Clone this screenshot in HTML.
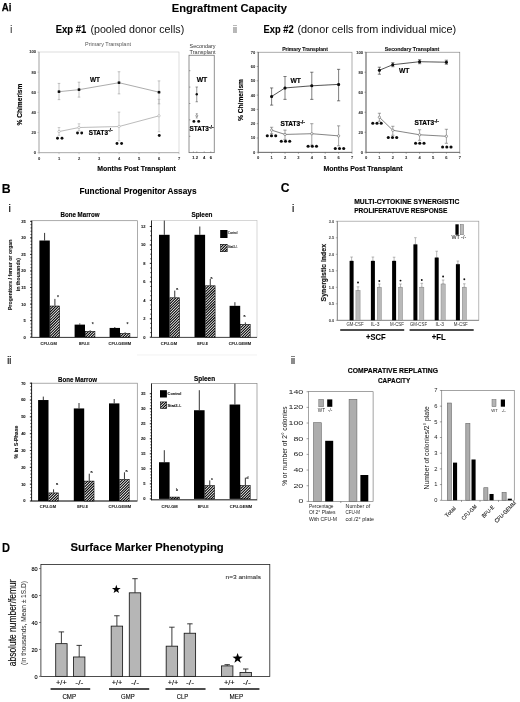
<!DOCTYPE html>
<html lang="en"><head><meta charset="utf-8"><title>Figure</title>
<style>html,body{margin:0;padding:0;background:#fff}svg{display:block}</style></head>
<body>
<svg width="520" height="702" viewBox="0 0 520 702" font-family='"Liberation Sans", sans-serif'>
<defs><filter id="bl" x="0" y="0" width="100%" height="100%" filterUnits="userSpaceOnUse"><feGaussianBlur stdDeviation="0.35"/></filter></defs>
<rect width="520" height="702" fill="#fff"/>
<g filter="url(#bl)">
<text x="1.80" y="10.50" font-size="10.7" font-weight="bold" textLength="9.70" lengthAdjust="spacingAndGlyphs" stroke="#000" stroke-width="0.25">Ai</text>
<text x="171.70" y="11.60" font-size="11.0" font-weight="bold" textLength="115.30" lengthAdjust="spacingAndGlyphs" stroke="#000" stroke-width="0.12">Engraftment Capacity</text>
<text x="9.90" y="32.70" font-size="11" fill="#333">i</text>
<text x="55.80" y="33.10" font-size="10.1" font-weight="bold" textLength="30.50" lengthAdjust="spacingAndGlyphs" stroke="#000" stroke-width="0.12">Exp #1</text>
<text x="90.40" y="33.10" font-size="10.1" fill="#111" textLength="93.80" lengthAdjust="spacingAndGlyphs">(pooled donor cells)</text>
<text x="233.10" y="32.60" font-size="10.4" fill="#555" textLength="4.00" lengthAdjust="spacingAndGlyphs">ii</text>
<text x="263.60" y="33.10" font-size="10.1" font-weight="bold" textLength="30.00" lengthAdjust="spacingAndGlyphs" stroke="#000" stroke-width="0.12">Exp #2</text>
<text x="297.40" y="33.10" font-size="10.1" fill="#111" textLength="158.80" lengthAdjust="spacingAndGlyphs">(donor cells from individual mice)</text>
<rect x="39.00" y="52.00" width="140.00" height="100.70" fill="none" stroke="#c6c6c6" stroke-width="0.6" />
<line x1="39.00" y1="52.00" x2="39.00" y2="152.70" stroke="#999" stroke-width="0.7" />
<line x1="39.00" y1="152.70" x2="179.00" y2="152.70" stroke="#999" stroke-width="0.7" />
<line x1="37.50" y1="152.70" x2="39.00" y2="152.70" stroke="#999" stroke-width="0.5" />
<text x="36.00" y="154.10" font-size="4.0" text-anchor="end" font-weight="bold" fill="#333" stroke="#333" stroke-width="0.08">0</text>
<line x1="37.50" y1="132.56" x2="39.00" y2="132.56" stroke="#999" stroke-width="0.5" />
<text x="36.00" y="133.96" font-size="4.0" text-anchor="end" font-weight="bold" fill="#333" stroke="#333" stroke-width="0.08">20</text>
<line x1="37.50" y1="112.42" x2="39.00" y2="112.42" stroke="#999" stroke-width="0.5" />
<text x="36.00" y="113.82" font-size="4.0" text-anchor="end" font-weight="bold" fill="#333" stroke="#333" stroke-width="0.08">40</text>
<line x1="37.50" y1="92.28" x2="39.00" y2="92.28" stroke="#999" stroke-width="0.5" />
<text x="36.00" y="93.68" font-size="4.0" text-anchor="end" font-weight="bold" fill="#333" stroke="#333" stroke-width="0.08">60</text>
<line x1="37.50" y1="72.14" x2="39.00" y2="72.14" stroke="#999" stroke-width="0.5" />
<text x="36.00" y="73.54" font-size="4.0" text-anchor="end" font-weight="bold" fill="#333" stroke="#333" stroke-width="0.08">80</text>
<line x1="37.50" y1="52.00" x2="39.00" y2="52.00" stroke="#999" stroke-width="0.5" />
<text x="36.00" y="53.40" font-size="4.0" text-anchor="end" font-weight="bold" fill="#333" stroke="#333" stroke-width="0.08">100</text>
<line x1="39.00" y1="152.70" x2="39.00" y2="154.20" stroke="#999" stroke-width="0.5" />
<text x="39.00" y="159.50" font-size="4.0" text-anchor="middle" font-weight="bold" fill="#333" stroke="#333" stroke-width="0.08">0</text>
<line x1="59.00" y1="152.70" x2="59.00" y2="154.20" stroke="#999" stroke-width="0.5" />
<text x="59.00" y="159.50" font-size="4.0" text-anchor="middle" font-weight="bold" fill="#333" stroke="#333" stroke-width="0.08">1</text>
<line x1="79.00" y1="152.70" x2="79.00" y2="154.20" stroke="#999" stroke-width="0.5" />
<text x="79.00" y="159.50" font-size="4.0" text-anchor="middle" font-weight="bold" fill="#333" stroke="#333" stroke-width="0.08">2</text>
<line x1="99.00" y1="152.70" x2="99.00" y2="154.20" stroke="#999" stroke-width="0.5" />
<text x="99.00" y="159.50" font-size="4.0" text-anchor="middle" font-weight="bold" fill="#333" stroke="#333" stroke-width="0.08">3</text>
<line x1="119.00" y1="152.70" x2="119.00" y2="154.20" stroke="#999" stroke-width="0.5" />
<text x="119.00" y="159.50" font-size="4.0" text-anchor="middle" font-weight="bold" fill="#333" stroke="#333" stroke-width="0.08">4</text>
<line x1="139.00" y1="152.70" x2="139.00" y2="154.20" stroke="#999" stroke-width="0.5" />
<text x="139.00" y="159.50" font-size="4.0" text-anchor="middle" font-weight="bold" fill="#333" stroke="#333" stroke-width="0.08">5</text>
<line x1="159.00" y1="152.70" x2="159.00" y2="154.20" stroke="#999" stroke-width="0.5" />
<text x="159.00" y="159.50" font-size="4.0" text-anchor="middle" font-weight="bold" fill="#333" stroke="#333" stroke-width="0.08">6</text>
<line x1="179.00" y1="152.70" x2="179.00" y2="154.20" stroke="#999" stroke-width="0.5" />
<text x="179.00" y="159.50" font-size="4.0" text-anchor="middle" font-weight="bold" fill="#333" stroke="#333" stroke-width="0.08">7</text>
<polyline points="59.00,131.55 79.00,127.52 119.00,126.52 159.00,115.84" fill="none" stroke="#aaa" stroke-width="0.8"/>
<line x1="59.00" y1="127.52" x2="59.00" y2="135.28" stroke="#aaa" stroke-width="0.6" />
<line x1="57.70" y1="127.52" x2="60.30" y2="127.52" stroke="#aaa" stroke-width="0.6" />
<line x1="57.70" y1="135.28" x2="60.30" y2="135.28" stroke="#aaa" stroke-width="0.6" />
<line x1="79.00" y1="123.80" x2="79.00" y2="130.75" stroke="#aaa" stroke-width="0.6" />
<line x1="77.70" y1="123.80" x2="80.30" y2="123.80" stroke="#aaa" stroke-width="0.6" />
<line x1="77.70" y1="130.75" x2="80.30" y2="130.75" stroke="#aaa" stroke-width="0.6" />
<line x1="119.00" y1="112.12" x2="119.00" y2="140.72" stroke="#aaa" stroke-width="0.6" />
<line x1="117.70" y1="112.12" x2="120.30" y2="112.12" stroke="#aaa" stroke-width="0.6" />
<line x1="117.70" y1="140.72" x2="120.30" y2="140.72" stroke="#aaa" stroke-width="0.6" />
<line x1="159.00" y1="99.33" x2="159.00" y2="131.75" stroke="#aaa" stroke-width="0.6" />
<line x1="157.70" y1="99.33" x2="160.30" y2="99.33" stroke="#aaa" stroke-width="0.6" />
<line x1="157.70" y1="131.75" x2="160.30" y2="131.75" stroke="#aaa" stroke-width="0.6" />
<circle cx="59.00" cy="131.55" r="1.1700000000000002" fill="#fff" stroke="#aaa" stroke-width="0.6"/>
<circle cx="79.00" cy="127.52" r="1.1700000000000002" fill="#fff" stroke="#aaa" stroke-width="0.6"/>
<circle cx="119.00" cy="126.52" r="1.1700000000000002" fill="#fff" stroke="#aaa" stroke-width="0.6"/>
<circle cx="159.00" cy="115.84" r="1.1700000000000002" fill="#fff" stroke="#aaa" stroke-width="0.6"/>
<polyline points="59.00,91.68 79.00,89.66 119.00,82.71 159.00,92.18" fill="none" stroke="#888" stroke-width="0.7"/>
<line x1="59.00" y1="83.42" x2="59.00" y2="99.63" stroke="#9a9a9a" stroke-width="0.6" />
<line x1="57.70" y1="83.42" x2="60.30" y2="83.42" stroke="#9a9a9a" stroke-width="0.6" />
<line x1="57.70" y1="99.63" x2="60.30" y2="99.63" stroke="#9a9a9a" stroke-width="0.6" />
<line x1="79.00" y1="82.21" x2="79.00" y2="97.11" stroke="#9a9a9a" stroke-width="0.6" />
<line x1="77.70" y1="82.21" x2="80.30" y2="82.21" stroke="#9a9a9a" stroke-width="0.6" />
<line x1="77.70" y1="97.11" x2="80.30" y2="97.11" stroke="#9a9a9a" stroke-width="0.6" />
<line x1="119.00" y1="71.74" x2="119.00" y2="93.89" stroke="#9a9a9a" stroke-width="0.6" />
<line x1="117.70" y1="71.74" x2="120.30" y2="71.74" stroke="#9a9a9a" stroke-width="0.6" />
<line x1="117.70" y1="93.89" x2="120.30" y2="93.89" stroke="#9a9a9a" stroke-width="0.6" />
<line x1="159.00" y1="80.90" x2="159.00" y2="103.86" stroke="#9a9a9a" stroke-width="0.6" />
<line x1="157.70" y1="80.90" x2="160.30" y2="80.90" stroke="#9a9a9a" stroke-width="0.6" />
<line x1="157.70" y1="103.86" x2="160.30" y2="103.86" stroke="#9a9a9a" stroke-width="0.6" />
<circle cx="59.00" cy="91.68" r="1.3" fill="#888"/>
<circle cx="79.00" cy="89.66" r="1.3" fill="#888"/>
<circle cx="119.00" cy="82.71" r="1.3" fill="#888"/>
<circle cx="159.00" cy="92.18" r="1.3" fill="#888"/>
<rect x="57.75" y="90.43" width="2.50" height="2.50" fill="#111" />
<rect x="77.75" y="88.41" width="2.50" height="2.50" fill="#111" />
<rect x="117.75" y="81.46" width="2.50" height="2.50" fill="#111" />
<rect x="157.75" y="90.93" width="2.50" height="2.50" fill="#111" />
<text x="85.00" y="46.20" font-size="4.7" fill="#555" textLength="46.00" lengthAdjust="spacingAndGlyphs">Primary Transplant</text>
<text x="90.00" y="81.80" font-size="6.6" font-weight="bold" textLength="10.00" lengthAdjust="spacingAndGlyphs" stroke="#000" stroke-width="0.15">WT</text>
<text x="88.7" y="134.8" font-size="6.6" font-weight="bold" stroke="#000" stroke-width="0.2" textLength="24" lengthAdjust="spacingAndGlyphs">STAT3<tspan dy="-2.4" font-size="5.2">-/-</tspan></text>
<circle cx="57.50" cy="138.20" r="1.45" fill="#111"/>
<circle cx="62.00" cy="138.20" r="1.45" fill="#111"/>
<circle cx="77.50" cy="133.00" r="1.45" fill="#111"/>
<circle cx="81.70" cy="133.00" r="1.45" fill="#111"/>
<circle cx="117.00" cy="143.50" r="1.45" fill="#111"/>
<circle cx="121.60" cy="143.50" r="1.45" fill="#111"/>
<circle cx="159.25" cy="135.50" r="1.45" fill="#111"/>
<text x="21.60" y="104.60" font-size="6.6" text-anchor="middle" font-weight="bold" textLength="42.00" lengthAdjust="spacingAndGlyphs" transform="rotate(-90 21.60 104.60)" stroke="#000" stroke-width="0.15">% Chimerism</text>
<text x="136.60" y="170.80" font-size="7" text-anchor="middle" font-weight="bold" textLength="78.50" lengthAdjust="spacingAndGlyphs" stroke="#000" stroke-width="0.15">Months Post Transplant</text>
<rect x="189.00" y="55.20" width="25.20" height="97.50" fill="none" stroke="#555" stroke-width="0.65" />
<text x="202.60" y="47.70" font-size="5.1" text-anchor="middle" fill="#333" textLength="26.00" lengthAdjust="spacingAndGlyphs">Secondary</text>
<text x="202.60" y="53.80" font-size="5.1" text-anchor="middle" fill="#333" textLength="26.00" lengthAdjust="spacingAndGlyphs">Transplant</text>
<line x1="189.00" y1="136.30" x2="190.40" y2="136.30" stroke="#555" stroke-width="0.5" />
<line x1="189.00" y1="119.90" x2="190.40" y2="119.90" stroke="#555" stroke-width="0.5" />
<line x1="189.00" y1="103.50" x2="190.40" y2="103.50" stroke="#555" stroke-width="0.5" />
<line x1="189.00" y1="87.10" x2="190.40" y2="87.10" stroke="#555" stroke-width="0.5" />
<line x1="189.00" y1="70.70" x2="190.40" y2="70.70" stroke="#555" stroke-width="0.5" />
<text x="193.40" y="159.30" font-size="4.2" text-anchor="middle" font-weight="bold" fill="#222" stroke="#222" stroke-width="0.08">1</text>
<line x1="193.40" y1="152.70" x2="193.40" y2="151.40" stroke="#555" stroke-width="0.5" />
<text x="196.80" y="159.30" font-size="4.2" text-anchor="middle" font-weight="bold" fill="#222" stroke="#222" stroke-width="0.08">2</text>
<line x1="196.80" y1="152.70" x2="196.80" y2="151.40" stroke="#555" stroke-width="0.5" />
<text x="204.20" y="159.30" font-size="4.2" text-anchor="middle" font-weight="bold" fill="#222" stroke="#222" stroke-width="0.08">4</text>
<line x1="204.20" y1="152.70" x2="204.20" y2="151.40" stroke="#555" stroke-width="0.5" />
<text x="210.80" y="159.30" font-size="4.2" text-anchor="middle" font-weight="bold" fill="#222" stroke="#222" stroke-width="0.08">6</text>
<line x1="210.80" y1="152.70" x2="210.80" y2="151.40" stroke="#555" stroke-width="0.5" />
<line x1="196.75" y1="87.00" x2="196.75" y2="101.75" stroke="#555" stroke-width="0.6" />
<line x1="195.55" y1="87.00" x2="197.95" y2="87.00" stroke="#555" stroke-width="0.6" />
<line x1="195.55" y1="101.75" x2="197.95" y2="101.75" stroke="#555" stroke-width="0.6" />
<circle cx="196.75" cy="94.25" r="1.2" fill="#111"/>
<line x1="196.75" y1="113.60" x2="196.75" y2="118.00" stroke="#666" stroke-width="0.5" />
<line x1="195.75" y1="113.60" x2="197.75" y2="113.60" stroke="#666" stroke-width="0.5" />
<line x1="195.75" y1="118.00" x2="197.75" y2="118.00" stroke="#666" stroke-width="0.5" />
<circle cx="196.75" cy="115.80" r="1.0" fill="#fff" stroke="#555" stroke-width="0.55"/>
<circle cx="193.90" cy="121.40" r="1.45" fill="#111"/>
<circle cx="198.70" cy="121.40" r="1.45" fill="#111"/>
<text x="196.70" y="82.30" font-size="6.6" font-weight="bold" textLength="10.60" lengthAdjust="spacingAndGlyphs" stroke="#000" stroke-width="0.15">WT</text>
<text x="189.6" y="131.0" font-size="6.6" font-weight="bold" stroke="#000" stroke-width="0.2" textLength="24" lengthAdjust="spacingAndGlyphs">STAT3<tspan dy="-2.4" font-size="5.2">-/-</tspan></text>
<rect x="258.20" y="52.20" width="93.80" height="100.10" fill="none" stroke="#777" stroke-width="0.6" />
<line x1="258.20" y1="52.20" x2="258.20" y2="152.30" stroke="#555" stroke-width="0.7" />
<line x1="258.20" y1="152.30" x2="352.00" y2="152.30" stroke="#555" stroke-width="0.7" />
<line x1="256.70" y1="152.30" x2="258.20" y2="152.30" stroke="#555" stroke-width="0.5" />
<text x="255.20" y="153.70" font-size="4.0" text-anchor="end" font-weight="bold" fill="#333" stroke="#333" stroke-width="0.08">0</text>
<line x1="256.70" y1="138.00" x2="258.20" y2="138.00" stroke="#555" stroke-width="0.5" />
<text x="255.20" y="139.40" font-size="4.0" text-anchor="end" font-weight="bold" fill="#333" stroke="#333" stroke-width="0.08">10</text>
<line x1="256.70" y1="123.70" x2="258.20" y2="123.70" stroke="#555" stroke-width="0.5" />
<text x="255.20" y="125.10" font-size="4.0" text-anchor="end" font-weight="bold" fill="#333" stroke="#333" stroke-width="0.08">20</text>
<line x1="256.70" y1="109.40" x2="258.20" y2="109.40" stroke="#555" stroke-width="0.5" />
<text x="255.20" y="110.80" font-size="4.0" text-anchor="end" font-weight="bold" fill="#333" stroke="#333" stroke-width="0.08">30</text>
<line x1="256.70" y1="95.10" x2="258.20" y2="95.10" stroke="#555" stroke-width="0.5" />
<text x="255.20" y="96.50" font-size="4.0" text-anchor="end" font-weight="bold" fill="#333" stroke="#333" stroke-width="0.08">40</text>
<line x1="256.70" y1="80.80" x2="258.20" y2="80.80" stroke="#555" stroke-width="0.5" />
<text x="255.20" y="82.20" font-size="4.0" text-anchor="end" font-weight="bold" fill="#333" stroke="#333" stroke-width="0.08">50</text>
<line x1="256.70" y1="66.50" x2="258.20" y2="66.50" stroke="#555" stroke-width="0.5" />
<text x="255.20" y="67.90" font-size="4.0" text-anchor="end" font-weight="bold" fill="#333" stroke="#333" stroke-width="0.08">60</text>
<line x1="256.70" y1="52.20" x2="258.20" y2="52.20" stroke="#555" stroke-width="0.5" />
<text x="255.20" y="53.60" font-size="4.0" text-anchor="end" font-weight="bold" fill="#333" stroke="#333" stroke-width="0.08">70</text>
<line x1="258.20" y1="152.30" x2="258.20" y2="153.80" stroke="#555" stroke-width="0.5" />
<text x="258.20" y="159.10" font-size="4.0" text-anchor="middle" font-weight="bold" fill="#333" stroke="#333" stroke-width="0.08">0</text>
<line x1="271.60" y1="152.30" x2="271.60" y2="153.80" stroke="#555" stroke-width="0.5" />
<text x="271.60" y="159.10" font-size="4.0" text-anchor="middle" font-weight="bold" fill="#333" stroke="#333" stroke-width="0.08">1</text>
<line x1="285.00" y1="152.30" x2="285.00" y2="153.80" stroke="#555" stroke-width="0.5" />
<text x="285.00" y="159.10" font-size="4.0" text-anchor="middle" font-weight="bold" fill="#333" stroke="#333" stroke-width="0.08">2</text>
<line x1="298.40" y1="152.30" x2="298.40" y2="153.80" stroke="#555" stroke-width="0.5" />
<text x="298.40" y="159.10" font-size="4.0" text-anchor="middle" font-weight="bold" fill="#333" stroke="#333" stroke-width="0.08">3</text>
<line x1="311.80" y1="152.30" x2="311.80" y2="153.80" stroke="#555" stroke-width="0.5" />
<text x="311.80" y="159.10" font-size="4.0" text-anchor="middle" font-weight="bold" fill="#333" stroke="#333" stroke-width="0.08">4</text>
<line x1="325.20" y1="152.30" x2="325.20" y2="153.80" stroke="#555" stroke-width="0.5" />
<text x="325.20" y="159.10" font-size="4.0" text-anchor="middle" font-weight="bold" fill="#333" stroke="#333" stroke-width="0.08">5</text>
<line x1="338.60" y1="152.30" x2="338.60" y2="153.80" stroke="#555" stroke-width="0.5" />
<text x="338.60" y="159.10" font-size="4.0" text-anchor="middle" font-weight="bold" fill="#333" stroke="#333" stroke-width="0.08">6</text>
<line x1="352.00" y1="152.30" x2="352.00" y2="153.80" stroke="#555" stroke-width="0.5" />
<text x="352.00" y="159.10" font-size="4.0" text-anchor="middle" font-weight="bold" fill="#333" stroke="#333" stroke-width="0.08">7</text>
<polyline points="271.60,130.14 285.00,134.43 311.80,133.71 338.60,135.86" fill="none" stroke="#666" stroke-width="0.8"/>
<line x1="271.60" y1="127.28" x2="271.60" y2="133.71" stroke="#666" stroke-width="0.6" />
<line x1="270.00" y1="127.28" x2="273.20" y2="127.28" stroke="#666" stroke-width="0.6" />
<line x1="270.00" y1="133.71" x2="273.20" y2="133.71" stroke="#666" stroke-width="0.6" />
<line x1="285.00" y1="130.14" x2="285.00" y2="139.43" stroke="#666" stroke-width="0.6" />
<line x1="283.40" y1="130.14" x2="286.60" y2="130.14" stroke="#666" stroke-width="0.6" />
<line x1="283.40" y1="139.43" x2="286.60" y2="139.43" stroke="#666" stroke-width="0.6" />
<line x1="311.80" y1="123.70" x2="311.80" y2="145.15" stroke="#666" stroke-width="0.6" />
<line x1="310.20" y1="123.70" x2="313.40" y2="123.70" stroke="#666" stroke-width="0.6" />
<line x1="310.20" y1="145.15" x2="313.40" y2="145.15" stroke="#666" stroke-width="0.6" />
<line x1="338.60" y1="125.85" x2="338.60" y2="145.87" stroke="#666" stroke-width="0.6" />
<line x1="337.00" y1="125.85" x2="340.20" y2="125.85" stroke="#666" stroke-width="0.6" />
<line x1="337.00" y1="145.87" x2="340.20" y2="145.87" stroke="#666" stroke-width="0.6" />
<circle cx="271.60" cy="130.14" r="1.1700000000000002" fill="#fff" stroke="#666" stroke-width="0.6"/>
<circle cx="285.00" cy="134.43" r="1.1700000000000002" fill="#fff" stroke="#666" stroke-width="0.6"/>
<circle cx="311.80" cy="133.71" r="1.1700000000000002" fill="#fff" stroke="#666" stroke-width="0.6"/>
<circle cx="338.60" cy="135.86" r="1.1700000000000002" fill="#fff" stroke="#666" stroke-width="0.6"/>
<polyline points="271.60,96.53 285.00,87.95 311.80,85.81 338.60,84.38" fill="none" stroke="#2a2a2a" stroke-width="0.8"/>
<line x1="271.60" y1="87.95" x2="271.60" y2="105.11" stroke="#2a2a2a" stroke-width="0.6" />
<line x1="270.00" y1="87.95" x2="273.20" y2="87.95" stroke="#2a2a2a" stroke-width="0.6" />
<line x1="270.00" y1="105.11" x2="273.20" y2="105.11" stroke="#2a2a2a" stroke-width="0.6" />
<line x1="285.00" y1="76.51" x2="285.00" y2="99.39" stroke="#2a2a2a" stroke-width="0.6" />
<line x1="283.40" y1="76.51" x2="286.60" y2="76.51" stroke="#2a2a2a" stroke-width="0.6" />
<line x1="283.40" y1="99.39" x2="286.60" y2="99.39" stroke="#2a2a2a" stroke-width="0.6" />
<line x1="311.80" y1="72.22" x2="311.80" y2="99.39" stroke="#2a2a2a" stroke-width="0.6" />
<line x1="310.20" y1="72.22" x2="313.40" y2="72.22" stroke="#2a2a2a" stroke-width="0.6" />
<line x1="310.20" y1="99.39" x2="313.40" y2="99.39" stroke="#2a2a2a" stroke-width="0.6" />
<line x1="338.60" y1="69.36" x2="338.60" y2="100.82" stroke="#2a2a2a" stroke-width="0.6" />
<line x1="337.00" y1="69.36" x2="340.20" y2="69.36" stroke="#2a2a2a" stroke-width="0.6" />
<line x1="337.00" y1="100.82" x2="340.20" y2="100.82" stroke="#2a2a2a" stroke-width="0.6" />
<circle cx="271.60" cy="96.53" r="1.3" fill="#2a2a2a"/>
<circle cx="285.00" cy="87.95" r="1.3" fill="#2a2a2a"/>
<circle cx="311.80" cy="85.81" r="1.3" fill="#2a2a2a"/>
<circle cx="338.60" cy="84.38" r="1.3" fill="#2a2a2a"/>
<circle cx="271.60" cy="96.53" r="1.5" fill="#111"/>
<circle cx="285.00" cy="87.95" r="1.5" fill="#111"/>
<circle cx="311.80" cy="85.81" r="1.5" fill="#111"/>
<circle cx="338.60" cy="84.38" r="1.5" fill="#111"/>
<text x="305.00" y="50.90" font-size="4.7" text-anchor="middle" font-weight="bold" fill="#111" textLength="45.70" lengthAdjust="spacingAndGlyphs" stroke="#111" stroke-width="0.12">Primary Transplant</text>
<text x="290.50" y="83.20" font-size="6.6" font-weight="bold" textLength="10.50" lengthAdjust="spacingAndGlyphs" stroke="#000" stroke-width="0.15">WT</text>
<text x="280.5" y="126" font-size="6.6" font-weight="bold" stroke="#000" stroke-width="0.2" textLength="24.5" lengthAdjust="spacingAndGlyphs">STAT3<tspan dy="-2.4" font-size="5.2">-/-</tspan></text>
<circle cx="267.30" cy="135.70" r="1.55" fill="#111"/>
<circle cx="271.50" cy="135.70" r="1.55" fill="#111"/>
<circle cx="275.70" cy="135.70" r="1.55" fill="#111"/>
<circle cx="281.30" cy="141.20" r="1.55" fill="#111"/>
<circle cx="285.50" cy="141.20" r="1.55" fill="#111"/>
<circle cx="289.70" cy="141.20" r="1.55" fill="#111"/>
<circle cx="308.10" cy="146.20" r="1.55" fill="#111"/>
<circle cx="312.30" cy="146.20" r="1.55" fill="#111"/>
<circle cx="316.50" cy="146.20" r="1.55" fill="#111"/>
<circle cx="335.30" cy="148.50" r="1.55" fill="#111"/>
<circle cx="339.50" cy="148.50" r="1.55" fill="#111"/>
<circle cx="343.70" cy="148.50" r="1.55" fill="#111"/>
<text x="242.90" y="100.00" font-size="6.6" text-anchor="middle" font-weight="bold" textLength="42.00" lengthAdjust="spacingAndGlyphs" transform="rotate(-90 242.90 100.00)" stroke="#000" stroke-width="0.15">% Chimerism</text>
<text x="363.00" y="170.50" font-size="7" text-anchor="middle" font-weight="bold" textLength="79.00" lengthAdjust="spacingAndGlyphs" stroke="#000" stroke-width="0.15">Months Post Transplant</text>
<rect x="366.00" y="52.20" width="93.80" height="100.10" fill="none" stroke="#777" stroke-width="0.6" />
<line x1="366.00" y1="52.20" x2="366.00" y2="152.30" stroke="#555" stroke-width="0.7" />
<line x1="366.00" y1="152.30" x2="459.80" y2="152.30" stroke="#555" stroke-width="0.7" />
<line x1="364.50" y1="152.30" x2="366.00" y2="152.30" stroke="#555" stroke-width="0.5" />
<text x="363.00" y="153.70" font-size="4.0" text-anchor="end" font-weight="bold" fill="#333" stroke="#333" stroke-width="0.08">0</text>
<line x1="364.50" y1="132.28" x2="366.00" y2="132.28" stroke="#555" stroke-width="0.5" />
<text x="363.00" y="133.68" font-size="4.0" text-anchor="end" font-weight="bold" fill="#333" stroke="#333" stroke-width="0.08">20</text>
<line x1="364.50" y1="112.26" x2="366.00" y2="112.26" stroke="#555" stroke-width="0.5" />
<text x="363.00" y="113.66" font-size="4.0" text-anchor="end" font-weight="bold" fill="#333" stroke="#333" stroke-width="0.08">40</text>
<line x1="364.50" y1="92.24" x2="366.00" y2="92.24" stroke="#555" stroke-width="0.5" />
<text x="363.00" y="93.64" font-size="4.0" text-anchor="end" font-weight="bold" fill="#333" stroke="#333" stroke-width="0.08">60</text>
<line x1="364.50" y1="72.22" x2="366.00" y2="72.22" stroke="#555" stroke-width="0.5" />
<text x="363.00" y="73.62" font-size="4.0" text-anchor="end" font-weight="bold" fill="#333" stroke="#333" stroke-width="0.08">80</text>
<line x1="364.50" y1="52.20" x2="366.00" y2="52.20" stroke="#555" stroke-width="0.5" />
<text x="363.00" y="53.60" font-size="4.0" text-anchor="end" font-weight="bold" fill="#333" stroke="#333" stroke-width="0.08">100</text>
<line x1="366.00" y1="152.30" x2="366.00" y2="153.80" stroke="#555" stroke-width="0.5" />
<text x="366.00" y="159.10" font-size="4.0" text-anchor="middle" font-weight="bold" fill="#333" stroke="#333" stroke-width="0.08">0</text>
<line x1="379.40" y1="152.30" x2="379.40" y2="153.80" stroke="#555" stroke-width="0.5" />
<text x="379.40" y="159.10" font-size="4.0" text-anchor="middle" font-weight="bold" fill="#333" stroke="#333" stroke-width="0.08">1</text>
<line x1="392.80" y1="152.30" x2="392.80" y2="153.80" stroke="#555" stroke-width="0.5" />
<text x="392.80" y="159.10" font-size="4.0" text-anchor="middle" font-weight="bold" fill="#333" stroke="#333" stroke-width="0.08">2</text>
<line x1="406.20" y1="152.30" x2="406.20" y2="153.80" stroke="#555" stroke-width="0.5" />
<text x="406.20" y="159.10" font-size="4.0" text-anchor="middle" font-weight="bold" fill="#333" stroke="#333" stroke-width="0.08">3</text>
<line x1="419.60" y1="152.30" x2="419.60" y2="153.80" stroke="#555" stroke-width="0.5" />
<text x="419.60" y="159.10" font-size="4.0" text-anchor="middle" font-weight="bold" fill="#333" stroke="#333" stroke-width="0.08">4</text>
<line x1="433.00" y1="152.30" x2="433.00" y2="153.80" stroke="#555" stroke-width="0.5" />
<text x="433.00" y="159.10" font-size="4.0" text-anchor="middle" font-weight="bold" fill="#333" stroke="#333" stroke-width="0.08">5</text>
<line x1="446.40" y1="152.30" x2="446.40" y2="153.80" stroke="#555" stroke-width="0.5" />
<text x="446.40" y="159.10" font-size="4.0" text-anchor="middle" font-weight="bold" fill="#333" stroke="#333" stroke-width="0.08">6</text>
<line x1="459.80" y1="152.30" x2="459.80" y2="153.80" stroke="#555" stroke-width="0.5" />
<text x="459.80" y="159.10" font-size="4.0" text-anchor="middle" font-weight="bold" fill="#333" stroke="#333" stroke-width="0.08">7</text>
<polyline points="379.40,117.27 392.80,130.28 419.60,134.78 446.40,136.28" fill="none" stroke="#666" stroke-width="0.8"/>
<line x1="379.40" y1="113.26" x2="379.40" y2="121.27" stroke="#666" stroke-width="0.6" />
<line x1="377.80" y1="113.26" x2="381.00" y2="113.26" stroke="#666" stroke-width="0.6" />
<line x1="377.80" y1="121.27" x2="381.00" y2="121.27" stroke="#666" stroke-width="0.6" />
<line x1="392.80" y1="126.27" x2="392.80" y2="135.28" stroke="#666" stroke-width="0.6" />
<line x1="391.20" y1="126.27" x2="394.40" y2="126.27" stroke="#666" stroke-width="0.6" />
<line x1="391.20" y1="135.28" x2="394.40" y2="135.28" stroke="#666" stroke-width="0.6" />
<line x1="419.60" y1="129.78" x2="419.60" y2="140.29" stroke="#666" stroke-width="0.6" />
<line x1="418.00" y1="129.78" x2="421.20" y2="129.78" stroke="#666" stroke-width="0.6" />
<line x1="418.00" y1="140.29" x2="421.20" y2="140.29" stroke="#666" stroke-width="0.6" />
<line x1="446.40" y1="129.28" x2="446.40" y2="143.29" stroke="#666" stroke-width="0.6" />
<line x1="444.80" y1="129.28" x2="448.00" y2="129.28" stroke="#666" stroke-width="0.6" />
<line x1="444.80" y1="143.29" x2="448.00" y2="143.29" stroke="#666" stroke-width="0.6" />
<circle cx="379.40" cy="117.27" r="1.1700000000000002" fill="#fff" stroke="#666" stroke-width="0.6"/>
<circle cx="392.80" cy="130.28" r="1.1700000000000002" fill="#fff" stroke="#666" stroke-width="0.6"/>
<circle cx="419.60" cy="134.78" r="1.1700000000000002" fill="#fff" stroke="#666" stroke-width="0.6"/>
<circle cx="446.40" cy="136.28" r="1.1700000000000002" fill="#fff" stroke="#666" stroke-width="0.6"/>
<polyline points="379.40,70.22 392.80,64.71 419.60,61.71 446.40,62.21" fill="none" stroke="#2a2a2a" stroke-width="0.8"/>
<line x1="379.40" y1="67.22" x2="379.40" y2="74.22" stroke="#2a2a2a" stroke-width="0.6" />
<line x1="377.80" y1="67.22" x2="381.00" y2="67.22" stroke="#2a2a2a" stroke-width="0.6" />
<line x1="377.80" y1="74.22" x2="381.00" y2="74.22" stroke="#2a2a2a" stroke-width="0.6" />
<line x1="392.80" y1="62.71" x2="392.80" y2="66.71" stroke="#2a2a2a" stroke-width="0.6" />
<line x1="391.20" y1="62.71" x2="394.40" y2="62.71" stroke="#2a2a2a" stroke-width="0.6" />
<line x1="391.20" y1="66.71" x2="394.40" y2="66.71" stroke="#2a2a2a" stroke-width="0.6" />
<line x1="419.60" y1="59.71" x2="419.60" y2="63.71" stroke="#2a2a2a" stroke-width="0.6" />
<line x1="418.00" y1="59.71" x2="421.20" y2="59.71" stroke="#2a2a2a" stroke-width="0.6" />
<line x1="418.00" y1="63.71" x2="421.20" y2="63.71" stroke="#2a2a2a" stroke-width="0.6" />
<line x1="446.40" y1="60.21" x2="446.40" y2="64.21" stroke="#2a2a2a" stroke-width="0.6" />
<line x1="444.80" y1="60.21" x2="448.00" y2="60.21" stroke="#2a2a2a" stroke-width="0.6" />
<line x1="444.80" y1="64.21" x2="448.00" y2="64.21" stroke="#2a2a2a" stroke-width="0.6" />
<circle cx="379.40" cy="70.22" r="1.3" fill="#2a2a2a"/>
<circle cx="392.80" cy="64.71" r="1.3" fill="#2a2a2a"/>
<circle cx="419.60" cy="61.71" r="1.3" fill="#2a2a2a"/>
<circle cx="446.40" cy="62.21" r="1.3" fill="#2a2a2a"/>
<circle cx="379.40" cy="70.22" r="1.5" fill="#111"/>
<circle cx="392.80" cy="64.71" r="1.5" fill="#111"/>
<circle cx="419.60" cy="61.71" r="1.5" fill="#111"/>
<circle cx="446.40" cy="62.21" r="1.5" fill="#111"/>
<text x="412.00" y="50.90" font-size="4.7" text-anchor="middle" font-weight="bold" fill="#111" textLength="54.50" lengthAdjust="spacingAndGlyphs" stroke="#111" stroke-width="0.12">Secondary Transplant</text>
<text x="399.00" y="73.30" font-size="6.6" font-weight="bold" textLength="10.50" lengthAdjust="spacingAndGlyphs" stroke="#000" stroke-width="0.15">WT</text>
<text x="414.5" y="125" font-size="6.6" font-weight="bold" stroke="#000" stroke-width="0.2" textLength="24.5" lengthAdjust="spacingAndGlyphs">STAT3<tspan dy="-2.4" font-size="5.2">-/-</tspan></text>
<circle cx="372.80" cy="123.20" r="1.55" fill="#111"/>
<circle cx="377.00" cy="123.20" r="1.55" fill="#111"/>
<circle cx="381.20" cy="123.20" r="1.55" fill="#111"/>
<circle cx="388.30" cy="137.50" r="1.55" fill="#111"/>
<circle cx="392.50" cy="137.50" r="1.55" fill="#111"/>
<circle cx="396.70" cy="137.50" r="1.55" fill="#111"/>
<circle cx="415.60" cy="143.20" r="1.55" fill="#111"/>
<circle cx="419.80" cy="143.20" r="1.55" fill="#111"/>
<circle cx="424.00" cy="143.20" r="1.55" fill="#111"/>
<circle cx="442.60" cy="147.00" r="1.55" fill="#111"/>
<circle cx="446.80" cy="147.00" r="1.55" fill="#111"/>
<circle cx="451.00" cy="147.00" r="1.55" fill="#111"/>
<text x="1.80" y="192.50" font-size="12.6" font-weight="bold" textLength="8.90" lengthAdjust="spacingAndGlyphs" stroke="#000" stroke-width="0.12">B</text>
<text x="138.00" y="194.00" font-size="9.6" text-anchor="middle" font-weight="bold" textLength="117.00" lengthAdjust="spacingAndGlyphs" stroke="#000" stroke-width="0.12">Functional Progenitor Assays</text>
<text x="8.50" y="212.00" font-size="10.4" fill="#111" stroke="#111" stroke-width="0.2">i</text>
<text x="7.30" y="363.60" font-size="10.0" fill="#111" textLength="4.10" lengthAdjust="spacingAndGlyphs" stroke="#111" stroke-width="0.2">ii</text>
<rect x="31.80" y="220.70" width="105.70" height="116.70" fill="none" stroke="#888" stroke-width="0.7" />
<line x1="137.00" y1="355.00" x2="257.00" y2="355.00" stroke="#ececec" stroke-width="0.7" />
<line x1="31.80" y1="220.80" x2="31.80" y2="337.20" stroke="#000" stroke-width="0.8" />
<line x1="30.40" y1="337.20" x2="31.80" y2="337.20" stroke="#000" stroke-width="0.6" />
<line x1="30.40" y1="333.89" x2="31.80" y2="333.89" stroke="#000" stroke-width="0.6" />
<line x1="30.40" y1="330.58" x2="31.80" y2="330.58" stroke="#000" stroke-width="0.6" />
<line x1="30.40" y1="327.27" x2="31.80" y2="327.27" stroke="#000" stroke-width="0.6" />
<line x1="30.40" y1="323.95" x2="31.80" y2="323.95" stroke="#000" stroke-width="0.6" />
<line x1="30.40" y1="320.64" x2="31.80" y2="320.64" stroke="#000" stroke-width="0.6" />
<line x1="30.40" y1="317.33" x2="31.80" y2="317.33" stroke="#000" stroke-width="0.6" />
<line x1="30.40" y1="314.02" x2="31.80" y2="314.02" stroke="#000" stroke-width="0.6" />
<line x1="30.40" y1="310.71" x2="31.80" y2="310.71" stroke="#000" stroke-width="0.6" />
<line x1="30.40" y1="307.40" x2="31.80" y2="307.40" stroke="#000" stroke-width="0.6" />
<line x1="30.40" y1="304.09" x2="31.80" y2="304.09" stroke="#000" stroke-width="0.6" />
<line x1="30.40" y1="300.77" x2="31.80" y2="300.77" stroke="#000" stroke-width="0.6" />
<line x1="30.40" y1="297.46" x2="31.80" y2="297.46" stroke="#000" stroke-width="0.6" />
<line x1="30.40" y1="294.15" x2="31.80" y2="294.15" stroke="#000" stroke-width="0.6" />
<line x1="30.40" y1="290.84" x2="31.80" y2="290.84" stroke="#000" stroke-width="0.6" />
<line x1="30.40" y1="287.53" x2="31.80" y2="287.53" stroke="#000" stroke-width="0.6" />
<line x1="30.40" y1="284.22" x2="31.80" y2="284.22" stroke="#000" stroke-width="0.6" />
<line x1="30.40" y1="280.91" x2="31.80" y2="280.91" stroke="#000" stroke-width="0.6" />
<line x1="30.40" y1="277.59" x2="31.80" y2="277.59" stroke="#000" stroke-width="0.6" />
<line x1="30.40" y1="274.28" x2="31.80" y2="274.28" stroke="#000" stroke-width="0.6" />
<line x1="30.40" y1="270.97" x2="31.80" y2="270.97" stroke="#000" stroke-width="0.6" />
<line x1="30.40" y1="267.66" x2="31.80" y2="267.66" stroke="#000" stroke-width="0.6" />
<line x1="30.40" y1="264.35" x2="31.80" y2="264.35" stroke="#000" stroke-width="0.6" />
<line x1="30.40" y1="261.04" x2="31.80" y2="261.04" stroke="#000" stroke-width="0.6" />
<line x1="30.40" y1="257.73" x2="31.80" y2="257.73" stroke="#000" stroke-width="0.6" />
<line x1="30.40" y1="254.41" x2="31.80" y2="254.41" stroke="#000" stroke-width="0.6" />
<line x1="30.40" y1="251.10" x2="31.80" y2="251.10" stroke="#000" stroke-width="0.6" />
<line x1="30.40" y1="247.79" x2="31.80" y2="247.79" stroke="#000" stroke-width="0.6" />
<line x1="30.40" y1="244.48" x2="31.80" y2="244.48" stroke="#000" stroke-width="0.6" />
<line x1="30.40" y1="241.17" x2="31.80" y2="241.17" stroke="#000" stroke-width="0.6" />
<line x1="30.40" y1="237.86" x2="31.80" y2="237.86" stroke="#000" stroke-width="0.6" />
<line x1="30.40" y1="234.55" x2="31.80" y2="234.55" stroke="#000" stroke-width="0.6" />
<line x1="30.40" y1="231.23" x2="31.80" y2="231.23" stroke="#000" stroke-width="0.6" />
<line x1="30.40" y1="227.92" x2="31.80" y2="227.92" stroke="#000" stroke-width="0.6" />
<line x1="30.40" y1="224.61" x2="31.80" y2="224.61" stroke="#000" stroke-width="0.6" />
<line x1="30.40" y1="221.30" x2="31.80" y2="221.30" stroke="#000" stroke-width="0.6" />
<line x1="30.00" y1="337.20" x2="31.80" y2="337.20" stroke="#000" stroke-width="0.6" />
<text x="25.80" y="338.65" font-size="4.0" text-anchor="end" font-weight="bold" fill="#111" stroke="#111" stroke-width="0.08">0</text>
<line x1="30.00" y1="320.64" x2="31.80" y2="320.64" stroke="#000" stroke-width="0.6" />
<text x="25.80" y="322.09" font-size="4.0" text-anchor="end" font-weight="bold" fill="#111" stroke="#111" stroke-width="0.08">5</text>
<line x1="30.00" y1="304.09" x2="31.80" y2="304.09" stroke="#000" stroke-width="0.6" />
<text x="25.80" y="305.54" font-size="4.0" text-anchor="end" font-weight="bold" fill="#111" stroke="#111" stroke-width="0.08">10</text>
<line x1="30.00" y1="287.53" x2="31.80" y2="287.53" stroke="#000" stroke-width="0.6" />
<text x="25.80" y="288.98" font-size="4.0" text-anchor="end" font-weight="bold" fill="#111" stroke="#111" stroke-width="0.08">15</text>
<line x1="30.00" y1="270.97" x2="31.80" y2="270.97" stroke="#000" stroke-width="0.6" />
<text x="25.80" y="272.42" font-size="4.0" text-anchor="end" font-weight="bold" fill="#111" stroke="#111" stroke-width="0.08">20</text>
<line x1="30.00" y1="254.41" x2="31.80" y2="254.41" stroke="#000" stroke-width="0.6" />
<text x="25.80" y="255.86" font-size="4.0" text-anchor="end" font-weight="bold" fill="#111" stroke="#111" stroke-width="0.08">25</text>
<line x1="30.00" y1="237.86" x2="31.80" y2="237.86" stroke="#000" stroke-width="0.6" />
<text x="25.80" y="239.31" font-size="4.0" text-anchor="end" font-weight="bold" fill="#111" stroke="#111" stroke-width="0.08">30</text>
<line x1="30.00" y1="221.30" x2="31.80" y2="221.30" stroke="#000" stroke-width="0.6" />
<text x="25.80" y="222.75" font-size="4.0" text-anchor="end" font-weight="bold" fill="#111" stroke="#111" stroke-width="0.08">35</text>
<line x1="31.80" y1="337.40" x2="137.50" y2="337.40" stroke="#222" stroke-width="0.8" />
<line x1="44.60" y1="240.51" x2="44.60" y2="232.90" stroke="#000" stroke-width="0.8" />
<rect x="39.40" y="240.51" width="10.40" height="96.69" fill="#000" />
<line x1="54.90" y1="305.74" x2="54.90" y2="298.90" stroke="#000" stroke-width="0.8" />
<clipPath id="c1"><rect x="50.10" y="306.04" width="9.60" height="31.16"/></clipPath>
<rect x="50.10" y="306.04" width="9.60" height="31.16" fill="#fff"/>
<path d="M50.10 306.64L59.70 297.04M50.10 309.34L59.70 299.74M50.10 312.04L59.70 302.44M50.10 314.74L59.70 305.14M50.10 317.44L59.70 307.84M50.10 320.14L59.70 310.54M50.10 322.84L59.70 313.24M50.10 325.54L59.70 315.94M50.10 328.24L59.70 318.64M50.10 330.94L59.70 321.34M50.10 333.64L59.70 324.04M50.10 336.34L59.70 326.74M50.10 339.04L59.70 329.44M50.10 341.74L59.70 332.14M50.10 344.44L59.70 334.84" stroke="#000" stroke-width="1.1" fill="none" clip-path="url(#c1)"/>
<rect x="50.10" y="306.04" width="9.60" height="31.16" fill="none" stroke="#000" stroke-width="0.6"/>
<line x1="79.80" y1="324.62" x2="79.80" y2="323.40" stroke="#000" stroke-width="0.8" />
<rect x="74.60" y="324.62" width="10.40" height="12.58" fill="#000" />
<line x1="90.10" y1="331.24" x2="90.10" y2="330.20" stroke="#000" stroke-width="0.8" />
<clipPath id="c2"><rect x="85.30" y="331.54" width="9.60" height="5.66"/></clipPath>
<rect x="85.30" y="331.54" width="9.60" height="5.66" fill="#fff"/>
<path d="M85.30 332.14L94.90 322.54M85.30 334.84L94.90 325.24M85.30 337.54L94.90 327.94M85.30 340.24L94.90 330.64M85.30 342.94L94.90 333.34M85.30 345.64L94.90 336.04" stroke="#000" stroke-width="1.1" fill="none" clip-path="url(#c2)"/>
<rect x="85.30" y="331.54" width="9.60" height="5.66" fill="none" stroke="#000" stroke-width="0.6"/>
<line x1="114.80" y1="327.93" x2="114.80" y2="327.00" stroke="#000" stroke-width="0.8" />
<rect x="109.60" y="327.93" width="10.40" height="9.27" fill="#000" />
<line x1="125.10" y1="333.23" x2="125.10" y2="332.30" stroke="#000" stroke-width="0.8" />
<clipPath id="c3"><rect x="120.30" y="333.53" width="9.60" height="3.67"/></clipPath>
<rect x="120.30" y="333.53" width="9.60" height="3.67" fill="#fff"/>
<path d="M120.30 334.13L129.90 324.53M120.30 336.83L129.90 327.23M120.30 339.53L129.90 329.93M120.30 342.23L129.90 332.63M120.30 344.93L129.90 335.33" stroke="#000" stroke-width="1.1" fill="none" clip-path="url(#c3)"/>
<rect x="120.30" y="333.53" width="9.60" height="3.67" fill="none" stroke="#000" stroke-width="0.6"/>
<text x="80.00" y="217.20" font-size="6.8" text-anchor="middle" font-weight="bold" textLength="39.00" lengthAdjust="spacingAndGlyphs" stroke="#000" stroke-width="0.15">Bone Marrow</text>
<text x="48.70" y="345.20" font-size="4.4" text-anchor="middle" font-weight="bold" fill="#222" textLength="16.30" lengthAdjust="spacingAndGlyphs" stroke="#222" stroke-width="0.08">CFU-GM</text>
<text x="84.30" y="345.20" font-size="4.4" text-anchor="middle" font-weight="bold" fill="#222" textLength="10.80" lengthAdjust="spacingAndGlyphs" stroke="#222" stroke-width="0.08">BFU-E</text>
<text x="119.80" y="345.20" font-size="4.4" text-anchor="middle" font-weight="bold" fill="#222" textLength="22.50" lengthAdjust="spacingAndGlyphs" stroke="#222" stroke-width="0.08">CFU-GEMM</text>
<text x="57.90" y="299.00" font-size="5" text-anchor="middle" font-weight="bold" fill="#333" stroke="#333" stroke-width="0.08">*</text>
<text x="92.80" y="326.00" font-size="5" text-anchor="middle" font-weight="bold" fill="#333" stroke="#333" stroke-width="0.08">*</text>
<text x="127.60" y="326.30" font-size="5" text-anchor="middle" font-weight="bold" fill="#333" stroke="#333" stroke-width="0.08">*</text>
<text x="12.30" y="274.80" font-size="5.0" text-anchor="middle" font-weight="bold" fill="#111" textLength="70.40" lengthAdjust="spacingAndGlyphs" transform="rotate(-90 12.30 274.80)" stroke="#111" stroke-width="0.08">Progenitors / femur or organ</text>
<text x="19.70" y="274.50" font-size="5.0" text-anchor="middle" font-weight="bold" fill="#111" textLength="33.00" lengthAdjust="spacingAndGlyphs" transform="rotate(-90 19.70 274.50)" stroke="#111" stroke-width="0.08">in thousands)</text>
<rect x="151.50" y="220.60" width="105.50" height="116.80" fill="none" stroke="#bbb" stroke-width="0.6" />
<line x1="151.50" y1="226.00" x2="151.50" y2="337.20" stroke="#000" stroke-width="0.8" />
<line x1="150.10" y1="337.20" x2="151.50" y2="337.20" stroke="#000" stroke-width="0.6" />
<line x1="150.10" y1="332.59" x2="151.50" y2="332.59" stroke="#000" stroke-width="0.6" />
<line x1="150.10" y1="327.97" x2="151.50" y2="327.97" stroke="#000" stroke-width="0.6" />
<line x1="150.10" y1="323.36" x2="151.50" y2="323.36" stroke="#000" stroke-width="0.6" />
<line x1="150.10" y1="318.75" x2="151.50" y2="318.75" stroke="#000" stroke-width="0.6" />
<line x1="150.10" y1="314.14" x2="151.50" y2="314.14" stroke="#000" stroke-width="0.6" />
<line x1="150.10" y1="309.52" x2="151.50" y2="309.52" stroke="#000" stroke-width="0.6" />
<line x1="150.10" y1="304.91" x2="151.50" y2="304.91" stroke="#000" stroke-width="0.6" />
<line x1="150.10" y1="300.30" x2="151.50" y2="300.30" stroke="#000" stroke-width="0.6" />
<line x1="150.10" y1="295.69" x2="151.50" y2="295.69" stroke="#000" stroke-width="0.6" />
<line x1="150.10" y1="291.07" x2="151.50" y2="291.07" stroke="#000" stroke-width="0.6" />
<line x1="150.10" y1="286.46" x2="151.50" y2="286.46" stroke="#000" stroke-width="0.6" />
<line x1="150.10" y1="281.85" x2="151.50" y2="281.85" stroke="#000" stroke-width="0.6" />
<line x1="150.10" y1="277.24" x2="151.50" y2="277.24" stroke="#000" stroke-width="0.6" />
<line x1="150.10" y1="272.62" x2="151.50" y2="272.62" stroke="#000" stroke-width="0.6" />
<line x1="150.10" y1="268.01" x2="151.50" y2="268.01" stroke="#000" stroke-width="0.6" />
<line x1="150.10" y1="263.40" x2="151.50" y2="263.40" stroke="#000" stroke-width="0.6" />
<line x1="150.10" y1="258.79" x2="151.50" y2="258.79" stroke="#000" stroke-width="0.6" />
<line x1="150.10" y1="254.18" x2="151.50" y2="254.18" stroke="#000" stroke-width="0.6" />
<line x1="150.10" y1="249.56" x2="151.50" y2="249.56" stroke="#000" stroke-width="0.6" />
<line x1="150.10" y1="244.95" x2="151.50" y2="244.95" stroke="#000" stroke-width="0.6" />
<line x1="150.10" y1="240.34" x2="151.50" y2="240.34" stroke="#000" stroke-width="0.6" />
<line x1="150.10" y1="235.72" x2="151.50" y2="235.72" stroke="#000" stroke-width="0.6" />
<line x1="150.10" y1="231.11" x2="151.50" y2="231.11" stroke="#000" stroke-width="0.6" />
<line x1="150.10" y1="226.50" x2="151.50" y2="226.50" stroke="#000" stroke-width="0.6" />
<line x1="149.70" y1="337.20" x2="151.50" y2="337.20" stroke="#000" stroke-width="0.6" />
<text x="145.50" y="338.65" font-size="4.0" text-anchor="end" font-weight="bold" fill="#111" stroke="#111" stroke-width="0.08">0</text>
<line x1="149.70" y1="318.75" x2="151.50" y2="318.75" stroke="#000" stroke-width="0.6" />
<text x="145.50" y="320.20" font-size="4.0" text-anchor="end" font-weight="bold" fill="#111" stroke="#111" stroke-width="0.08">2</text>
<line x1="149.70" y1="300.30" x2="151.50" y2="300.30" stroke="#000" stroke-width="0.6" />
<text x="145.50" y="301.75" font-size="4.0" text-anchor="end" font-weight="bold" fill="#111" stroke="#111" stroke-width="0.08">4</text>
<line x1="149.70" y1="281.85" x2="151.50" y2="281.85" stroke="#000" stroke-width="0.6" />
<text x="145.50" y="283.30" font-size="4.0" text-anchor="end" font-weight="bold" fill="#111" stroke="#111" stroke-width="0.08">6</text>
<line x1="149.70" y1="263.40" x2="151.50" y2="263.40" stroke="#000" stroke-width="0.6" />
<text x="145.50" y="264.85" font-size="4.0" text-anchor="end" font-weight="bold" fill="#111" stroke="#111" stroke-width="0.08">8</text>
<line x1="149.70" y1="244.95" x2="151.50" y2="244.95" stroke="#000" stroke-width="0.6" />
<text x="145.50" y="246.40" font-size="4.0" text-anchor="end" font-weight="bold" fill="#111" stroke="#111" stroke-width="0.08">10</text>
<line x1="149.70" y1="226.50" x2="151.50" y2="226.50" stroke="#000" stroke-width="0.6" />
<text x="145.50" y="227.95" font-size="4.0" text-anchor="end" font-weight="bold" fill="#111" stroke="#111" stroke-width="0.08">12</text>
<line x1="151.50" y1="220.60" x2="151.50" y2="226.50" stroke="#000" stroke-width="0.8" />
<line x1="151.50" y1="337.40" x2="257.00" y2="337.40" stroke="#222" stroke-width="0.8" />
<line x1="164.30" y1="234.80" x2="164.30" y2="220.60" stroke="#000" stroke-width="0.8" />
<rect x="159.00" y="234.80" width="10.60" height="102.40" fill="#000" />
<line x1="174.75" y1="297.53" x2="174.75" y2="290.60" stroke="#000" stroke-width="0.8" />
<clipPath id="c4"><rect x="169.90" y="297.83" width="9.70" height="39.37"/></clipPath>
<rect x="169.90" y="297.83" width="9.70" height="39.37" fill="#fff"/>
<path d="M169.90 298.43L179.60 288.73M169.90 301.13L179.60 291.43M169.90 303.83L179.60 294.13M169.90 306.53L179.60 296.83M169.90 309.23L179.60 299.53M169.90 311.93L179.60 302.23M169.90 314.63L179.60 304.93M169.90 317.33L179.60 307.63M169.90 320.03L179.60 310.33M169.90 322.73L179.60 313.03M169.90 325.43L179.60 315.73M169.90 328.13L179.60 318.43M169.90 330.83L179.60 321.13M169.90 333.53L179.60 323.83M169.90 336.23L179.60 326.53M169.90 338.93L179.60 329.23M169.90 341.63L179.60 331.93M169.90 344.33L179.60 334.63" stroke="#000" stroke-width="1.1" fill="none" clip-path="url(#c4)"/>
<rect x="169.90" y="297.83" width="9.70" height="39.37" fill="none" stroke="#000" stroke-width="0.6"/>
<line x1="199.80" y1="234.80" x2="199.80" y2="226.50" stroke="#000" stroke-width="0.8" />
<rect x="194.50" y="234.80" width="10.60" height="102.40" fill="#000" />
<line x1="210.25" y1="285.54" x2="210.25" y2="279.00" stroke="#000" stroke-width="0.8" />
<clipPath id="c5"><rect x="205.40" y="285.84" width="9.70" height="51.36"/></clipPath>
<rect x="205.40" y="285.84" width="9.70" height="51.36" fill="#fff"/>
<path d="M205.40 286.44L215.10 276.74M205.40 289.14L215.10 279.44M205.40 291.84L215.10 282.14M205.40 294.54L215.10 284.84M205.40 297.24L215.10 287.54M205.40 299.94L215.10 290.24M205.40 302.64L215.10 292.94M205.40 305.34L215.10 295.64M205.40 308.04L215.10 298.34M205.40 310.74L215.10 301.04M205.40 313.44L215.10 303.74M205.40 316.14L215.10 306.44M205.40 318.84L215.10 309.14M205.40 321.54L215.10 311.84M205.40 324.24L215.10 314.54M205.40 326.94L215.10 317.24M205.40 329.64L215.10 319.94M205.40 332.34L215.10 322.64M205.40 335.04L215.10 325.34M205.40 337.74L215.10 328.04M205.40 340.44L215.10 330.74M205.40 343.14L215.10 333.44M205.40 345.84L215.10 336.14" stroke="#000" stroke-width="1.1" fill="none" clip-path="url(#c5)"/>
<rect x="205.40" y="285.84" width="9.70" height="51.36" fill="none" stroke="#000" stroke-width="0.6"/>
<line x1="234.90" y1="305.83" x2="234.90" y2="302.20" stroke="#000" stroke-width="0.8" />
<rect x="229.60" y="305.83" width="10.60" height="31.36" fill="#000" />
<line x1="245.35" y1="324.28" x2="245.35" y2="322.40" stroke="#000" stroke-width="0.8" />
<clipPath id="c6"><rect x="240.50" y="324.58" width="9.70" height="12.61"/></clipPath>
<rect x="240.50" y="324.58" width="9.70" height="12.61" fill="#fff"/>
<path d="M240.50 325.19L250.20 315.49M240.50 327.88L250.20 318.19M240.50 330.58L250.20 320.88M240.50 333.28L250.20 323.58M240.50 335.98L250.20 326.28M240.50 338.68L250.20 328.98M240.50 341.38L250.20 331.68M240.50 344.08L250.20 334.38M240.50 346.78L250.20 337.08" stroke="#000" stroke-width="1.1" fill="none" clip-path="url(#c6)"/>
<rect x="240.50" y="324.58" width="9.70" height="12.61" fill="none" stroke="#000" stroke-width="0.6"/>
<text x="201.90" y="217.20" font-size="6.8" text-anchor="middle" font-weight="bold" textLength="21.00" lengthAdjust="spacingAndGlyphs" stroke="#000" stroke-width="0.15">Spleen</text>
<text x="169.00" y="345.20" font-size="4.4" text-anchor="middle" font-weight="bold" fill="#222" textLength="16.30" lengthAdjust="spacingAndGlyphs" stroke="#222" stroke-width="0.08">CFU-GM</text>
<text x="202.70" y="345.20" font-size="4.4" text-anchor="middle" font-weight="bold" fill="#222" textLength="10.80" lengthAdjust="spacingAndGlyphs" stroke="#222" stroke-width="0.08">BFU-E</text>
<text x="239.90" y="345.20" font-size="4.4" text-anchor="middle" font-weight="bold" fill="#222" textLength="22.50" lengthAdjust="spacingAndGlyphs" stroke="#222" stroke-width="0.08">CFU-GEMM</text>
<text x="177.20" y="290.00" font-size="3.6" text-anchor="middle" font-weight="bold" fill="#222" stroke="#222" stroke-width="0.08">a</text>
<text x="211.50" y="279.00" font-size="3.6" text-anchor="middle" font-weight="bold" fill="#222" stroke="#222" stroke-width="0.08">a</text>
<text x="244.50" y="316.50" font-size="3.6" text-anchor="middle" font-weight="bold" fill="#222" stroke="#222" stroke-width="0.08">a</text>
<rect x="220.20" y="230.00" width="7.30" height="8.00" fill="#000" />
<clipPath id="c7"><rect x="220.50" y="244.30" width="6.70" height="7.40"/></clipPath>
<rect x="220.50" y="244.30" width="6.70" height="7.40" fill="#fff"/>
<path d="M220.50 244.90L227.20 238.20M220.50 247.60L227.20 240.90M220.50 250.30L227.20 243.60M220.50 253.00L227.20 246.30M220.50 255.70L227.20 249.00M220.50 258.40L227.20 251.70" stroke="#000" stroke-width="1.1" fill="none" clip-path="url(#c7)"/>
<rect x="220.50" y="244.30" width="6.70" height="7.40" fill="none" stroke="#000" stroke-width="0.6"/>
<text x="228.00" y="234.00" font-size="2.8" font-weight="bold" fill="#333" textLength="9.50" lengthAdjust="spacingAndGlyphs" stroke="#333" stroke-width="0.08">Control</text>
<text x="228.00" y="248.00" font-size="2.8" font-weight="bold" fill="#333" textLength="9.50" lengthAdjust="spacingAndGlyphs" stroke="#333" stroke-width="0.08">Stat3-/-</text>
<rect x="31.60" y="383.20" width="105.70" height="117.80" fill="none" stroke="#888" stroke-width="0.7" />
<line x1="31.60" y1="382.70" x2="31.60" y2="501.00" stroke="#000" stroke-width="0.8" />
<line x1="30.20" y1="501.00" x2="31.60" y2="501.00" stroke="#000" stroke-width="0.6" />
<line x1="30.20" y1="497.63" x2="31.60" y2="497.63" stroke="#000" stroke-width="0.6" />
<line x1="30.20" y1="494.27" x2="31.60" y2="494.27" stroke="#000" stroke-width="0.6" />
<line x1="30.20" y1="490.90" x2="31.60" y2="490.90" stroke="#000" stroke-width="0.6" />
<line x1="30.20" y1="487.54" x2="31.60" y2="487.54" stroke="#000" stroke-width="0.6" />
<line x1="30.20" y1="484.17" x2="31.60" y2="484.17" stroke="#000" stroke-width="0.6" />
<line x1="30.20" y1="480.81" x2="31.60" y2="480.81" stroke="#000" stroke-width="0.6" />
<line x1="30.20" y1="477.44" x2="31.60" y2="477.44" stroke="#000" stroke-width="0.6" />
<line x1="30.20" y1="474.07" x2="31.60" y2="474.07" stroke="#000" stroke-width="0.6" />
<line x1="30.20" y1="470.71" x2="31.60" y2="470.71" stroke="#000" stroke-width="0.6" />
<line x1="30.20" y1="467.34" x2="31.60" y2="467.34" stroke="#000" stroke-width="0.6" />
<line x1="30.20" y1="463.98" x2="31.60" y2="463.98" stroke="#000" stroke-width="0.6" />
<line x1="30.20" y1="460.61" x2="31.60" y2="460.61" stroke="#000" stroke-width="0.6" />
<line x1="30.20" y1="457.25" x2="31.60" y2="457.25" stroke="#000" stroke-width="0.6" />
<line x1="30.20" y1="453.88" x2="31.60" y2="453.88" stroke="#000" stroke-width="0.6" />
<line x1="30.20" y1="450.51" x2="31.60" y2="450.51" stroke="#000" stroke-width="0.6" />
<line x1="30.20" y1="447.15" x2="31.60" y2="447.15" stroke="#000" stroke-width="0.6" />
<line x1="30.20" y1="443.78" x2="31.60" y2="443.78" stroke="#000" stroke-width="0.6" />
<line x1="30.20" y1="440.42" x2="31.60" y2="440.42" stroke="#000" stroke-width="0.6" />
<line x1="30.20" y1="437.05" x2="31.60" y2="437.05" stroke="#000" stroke-width="0.6" />
<line x1="30.20" y1="433.69" x2="31.60" y2="433.69" stroke="#000" stroke-width="0.6" />
<line x1="30.20" y1="430.32" x2="31.60" y2="430.32" stroke="#000" stroke-width="0.6" />
<line x1="30.20" y1="426.95" x2="31.60" y2="426.95" stroke="#000" stroke-width="0.6" />
<line x1="30.20" y1="423.59" x2="31.60" y2="423.59" stroke="#000" stroke-width="0.6" />
<line x1="30.20" y1="420.22" x2="31.60" y2="420.22" stroke="#000" stroke-width="0.6" />
<line x1="30.20" y1="416.86" x2="31.60" y2="416.86" stroke="#000" stroke-width="0.6" />
<line x1="30.20" y1="413.49" x2="31.60" y2="413.49" stroke="#000" stroke-width="0.6" />
<line x1="30.20" y1="410.13" x2="31.60" y2="410.13" stroke="#000" stroke-width="0.6" />
<line x1="30.20" y1="406.76" x2="31.60" y2="406.76" stroke="#000" stroke-width="0.6" />
<line x1="30.20" y1="403.39" x2="31.60" y2="403.39" stroke="#000" stroke-width="0.6" />
<line x1="30.20" y1="400.03" x2="31.60" y2="400.03" stroke="#000" stroke-width="0.6" />
<line x1="30.20" y1="396.66" x2="31.60" y2="396.66" stroke="#000" stroke-width="0.6" />
<line x1="30.20" y1="393.30" x2="31.60" y2="393.30" stroke="#000" stroke-width="0.6" />
<line x1="30.20" y1="389.93" x2="31.60" y2="389.93" stroke="#000" stroke-width="0.6" />
<line x1="30.20" y1="386.57" x2="31.60" y2="386.57" stroke="#000" stroke-width="0.6" />
<line x1="30.20" y1="383.20" x2="31.60" y2="383.20" stroke="#000" stroke-width="0.6" />
<line x1="29.80" y1="501.00" x2="31.60" y2="501.00" stroke="#000" stroke-width="0.6" />
<text x="25.60" y="502.45" font-size="4.0" text-anchor="end" font-weight="bold" fill="#111" stroke="#111" stroke-width="0.08">0</text>
<line x1="29.80" y1="484.17" x2="31.60" y2="484.17" stroke="#000" stroke-width="0.6" />
<text x="25.60" y="485.62" font-size="4.0" text-anchor="end" font-weight="bold" fill="#111" stroke="#111" stroke-width="0.08">10</text>
<line x1="29.80" y1="467.34" x2="31.60" y2="467.34" stroke="#000" stroke-width="0.6" />
<text x="25.60" y="468.79" font-size="4.0" text-anchor="end" font-weight="bold" fill="#111" stroke="#111" stroke-width="0.08">20</text>
<line x1="29.80" y1="450.51" x2="31.60" y2="450.51" stroke="#000" stroke-width="0.6" />
<text x="25.60" y="451.96" font-size="4.0" text-anchor="end" font-weight="bold" fill="#111" stroke="#111" stroke-width="0.08">30</text>
<line x1="29.80" y1="433.69" x2="31.60" y2="433.69" stroke="#000" stroke-width="0.6" />
<text x="25.60" y="435.14" font-size="4.0" text-anchor="end" font-weight="bold" fill="#111" stroke="#111" stroke-width="0.08">40</text>
<line x1="29.80" y1="416.86" x2="31.60" y2="416.86" stroke="#000" stroke-width="0.6" />
<text x="25.60" y="418.31" font-size="4.0" text-anchor="end" font-weight="bold" fill="#111" stroke="#111" stroke-width="0.08">50</text>
<line x1="29.80" y1="400.03" x2="31.60" y2="400.03" stroke="#000" stroke-width="0.6" />
<text x="25.60" y="401.48" font-size="4.0" text-anchor="end" font-weight="bold" fill="#111" stroke="#111" stroke-width="0.08">60</text>
<line x1="29.80" y1="383.20" x2="31.60" y2="383.20" stroke="#000" stroke-width="0.6" />
<text x="25.60" y="384.65" font-size="4.0" text-anchor="end" font-weight="bold" fill="#111" stroke="#111" stroke-width="0.08">70</text>
<line x1="31.60" y1="501.00" x2="137.30" y2="501.00" stroke="#111" stroke-width="0.9" />
<line x1="43.30" y1="400.03" x2="43.30" y2="396.60" stroke="#000" stroke-width="0.8" />
<rect x="38.10" y="400.03" width="10.40" height="100.97" fill="#000" />
<line x1="53.55" y1="492.59" x2="53.55" y2="489.30" stroke="#000" stroke-width="0.8" />
<clipPath id="c8"><rect x="48.80" y="492.89" width="9.50" height="8.11"/></clipPath>
<rect x="48.80" y="492.89" width="9.50" height="8.11" fill="#fff"/>
<path d="M48.80 493.49L58.30 483.99M48.80 496.19L58.30 486.69M48.80 498.89L58.30 489.39M48.80 501.59L58.30 492.09M48.80 504.29L58.30 494.79M48.80 506.99L58.30 497.49M48.80 509.69L58.30 500.19" stroke="#000" stroke-width="1.1" fill="none" clip-path="url(#c8)"/>
<rect x="48.80" y="492.89" width="9.50" height="8.11" fill="none" stroke="#000" stroke-width="0.6"/>
<line x1="79.00" y1="408.44" x2="79.00" y2="403.00" stroke="#000" stroke-width="0.8" />
<rect x="73.80" y="408.44" width="10.40" height="92.56" fill="#000" />
<line x1="89.25" y1="480.81" x2="89.25" y2="473.70" stroke="#000" stroke-width="0.8" />
<clipPath id="c9"><rect x="84.50" y="481.11" width="9.50" height="19.89"/></clipPath>
<rect x="84.50" y="481.11" width="9.50" height="19.89" fill="#fff"/>
<path d="M84.50 481.71L94.00 472.21M84.50 484.41L94.00 474.91M84.50 487.11L94.00 477.61M84.50 489.81L94.00 480.31M84.50 492.51L94.00 483.01M84.50 495.21L94.00 485.71M84.50 497.91L94.00 488.41M84.50 500.61L94.00 491.11M84.50 503.31L94.00 493.81M84.50 506.01L94.00 496.51M84.50 508.71L94.00 499.21" stroke="#000" stroke-width="1.1" fill="none" clip-path="url(#c9)"/>
<rect x="84.50" y="481.11" width="9.50" height="19.89" fill="none" stroke="#000" stroke-width="0.6"/>
<line x1="114.20" y1="403.39" x2="114.20" y2="399.00" stroke="#000" stroke-width="0.8" />
<rect x="109.00" y="403.39" width="10.40" height="97.61" fill="#000" />
<line x1="124.45" y1="479.12" x2="124.45" y2="472.30" stroke="#000" stroke-width="0.8" />
<clipPath id="c10"><rect x="119.70" y="479.42" width="9.50" height="21.58"/></clipPath>
<rect x="119.70" y="479.42" width="9.50" height="21.58" fill="#fff"/>
<path d="M119.70 480.02L129.20 470.52M119.70 482.72L129.20 473.22M119.70 485.42L129.20 475.92M119.70 488.12L129.20 478.62M119.70 490.82L129.20 481.32M119.70 493.52L129.20 484.02M119.70 496.22L129.20 486.72M119.70 498.92L129.20 489.42M119.70 501.62L129.20 492.12M119.70 504.32L129.20 494.82M119.70 507.02L129.20 497.52M119.70 509.72L129.20 500.22" stroke="#000" stroke-width="1.1" fill="none" clip-path="url(#c10)"/>
<rect x="119.70" y="479.42" width="9.50" height="21.58" fill="none" stroke="#000" stroke-width="0.6"/>
<text x="77.50" y="381.80" font-size="6.8" text-anchor="middle" font-weight="bold" textLength="39.00" lengthAdjust="spacingAndGlyphs" stroke="#000" stroke-width="0.15">Bone Marrow</text>
<text x="48.00" y="508.00" font-size="4.4" text-anchor="middle" font-weight="bold" fill="#222" textLength="16.30" lengthAdjust="spacingAndGlyphs" stroke="#222" stroke-width="0.08">CFU-GM</text>
<text x="82.70" y="508.00" font-size="4.4" text-anchor="middle" font-weight="bold" fill="#222" textLength="10.80" lengthAdjust="spacingAndGlyphs" stroke="#222" stroke-width="0.08">BFU-E</text>
<text x="119.80" y="508.00" font-size="4.4" text-anchor="middle" font-weight="bold" fill="#222" textLength="22.50" lengthAdjust="spacingAndGlyphs" stroke="#222" stroke-width="0.08">CFU-GEMM</text>
<text x="57.00" y="484.50" font-size="3.8" text-anchor="middle" font-weight="bold" fill="#222" stroke="#222" stroke-width="0.08">a</text>
<text x="91.50" y="473.00" font-size="3.8" text-anchor="middle" font-weight="bold" fill="#222" stroke="#222" stroke-width="0.08">a</text>
<text x="126.50" y="471.50" font-size="3.8" text-anchor="middle" font-weight="bold" fill="#222" stroke="#222" stroke-width="0.08">a</text>
<text x="18.00" y="442.00" font-size="5.2" text-anchor="middle" font-weight="bold" fill="#111" textLength="33.00" lengthAdjust="spacingAndGlyphs" transform="rotate(-90 18.00 442.00)" stroke="#111" stroke-width="0.08">% in S-Phase</text>
<rect x="151.50" y="383.60" width="105.50" height="116.60" fill="none" stroke="#888" stroke-width="0.7" />
<line x1="151.50" y1="383.70" x2="151.50" y2="393.70" stroke="#000" stroke-width="0.8" />
<line x1="151.50" y1="393.20" x2="151.50" y2="498.90" stroke="#000" stroke-width="0.8" />
<line x1="150.10" y1="498.90" x2="151.50" y2="498.90" stroke="#000" stroke-width="0.6" />
<line x1="150.10" y1="495.89" x2="151.50" y2="495.89" stroke="#000" stroke-width="0.6" />
<line x1="150.10" y1="492.89" x2="151.50" y2="492.89" stroke="#000" stroke-width="0.6" />
<line x1="150.10" y1="489.88" x2="151.50" y2="489.88" stroke="#000" stroke-width="0.6" />
<line x1="150.10" y1="486.88" x2="151.50" y2="486.88" stroke="#000" stroke-width="0.6" />
<line x1="150.10" y1="483.87" x2="151.50" y2="483.87" stroke="#000" stroke-width="0.6" />
<line x1="150.10" y1="480.87" x2="151.50" y2="480.87" stroke="#000" stroke-width="0.6" />
<line x1="150.10" y1="477.86" x2="151.50" y2="477.86" stroke="#000" stroke-width="0.6" />
<line x1="150.10" y1="474.85" x2="151.50" y2="474.85" stroke="#000" stroke-width="0.6" />
<line x1="150.10" y1="471.85" x2="151.50" y2="471.85" stroke="#000" stroke-width="0.6" />
<line x1="150.10" y1="468.84" x2="151.50" y2="468.84" stroke="#000" stroke-width="0.6" />
<line x1="150.10" y1="465.84" x2="151.50" y2="465.84" stroke="#000" stroke-width="0.6" />
<line x1="150.10" y1="462.83" x2="151.50" y2="462.83" stroke="#000" stroke-width="0.6" />
<line x1="150.10" y1="459.83" x2="151.50" y2="459.83" stroke="#000" stroke-width="0.6" />
<line x1="150.10" y1="456.82" x2="151.50" y2="456.82" stroke="#000" stroke-width="0.6" />
<line x1="150.10" y1="453.81" x2="151.50" y2="453.81" stroke="#000" stroke-width="0.6" />
<line x1="150.10" y1="450.81" x2="151.50" y2="450.81" stroke="#000" stroke-width="0.6" />
<line x1="150.10" y1="447.80" x2="151.50" y2="447.80" stroke="#000" stroke-width="0.6" />
<line x1="150.10" y1="444.80" x2="151.50" y2="444.80" stroke="#000" stroke-width="0.6" />
<line x1="150.10" y1="441.79" x2="151.50" y2="441.79" stroke="#000" stroke-width="0.6" />
<line x1="150.10" y1="438.79" x2="151.50" y2="438.79" stroke="#000" stroke-width="0.6" />
<line x1="150.10" y1="435.78" x2="151.50" y2="435.78" stroke="#000" stroke-width="0.6" />
<line x1="150.10" y1="432.77" x2="151.50" y2="432.77" stroke="#000" stroke-width="0.6" />
<line x1="150.10" y1="429.77" x2="151.50" y2="429.77" stroke="#000" stroke-width="0.6" />
<line x1="150.10" y1="426.76" x2="151.50" y2="426.76" stroke="#000" stroke-width="0.6" />
<line x1="150.10" y1="423.76" x2="151.50" y2="423.76" stroke="#000" stroke-width="0.6" />
<line x1="150.10" y1="420.75" x2="151.50" y2="420.75" stroke="#000" stroke-width="0.6" />
<line x1="150.10" y1="417.75" x2="151.50" y2="417.75" stroke="#000" stroke-width="0.6" />
<line x1="150.10" y1="414.74" x2="151.50" y2="414.74" stroke="#000" stroke-width="0.6" />
<line x1="150.10" y1="411.73" x2="151.50" y2="411.73" stroke="#000" stroke-width="0.6" />
<line x1="150.10" y1="408.73" x2="151.50" y2="408.73" stroke="#000" stroke-width="0.6" />
<line x1="150.10" y1="405.72" x2="151.50" y2="405.72" stroke="#000" stroke-width="0.6" />
<line x1="150.10" y1="402.72" x2="151.50" y2="402.72" stroke="#000" stroke-width="0.6" />
<line x1="150.10" y1="399.71" x2="151.50" y2="399.71" stroke="#000" stroke-width="0.6" />
<line x1="150.10" y1="396.71" x2="151.50" y2="396.71" stroke="#000" stroke-width="0.6" />
<line x1="150.10" y1="393.70" x2="151.50" y2="393.70" stroke="#000" stroke-width="0.6" />
<line x1="149.70" y1="498.90" x2="151.50" y2="498.90" stroke="#000" stroke-width="0.6" />
<text x="145.50" y="500.35" font-size="4.0" text-anchor="end" font-weight="bold" fill="#111" stroke="#111" stroke-width="0.08">0</text>
<line x1="149.70" y1="483.87" x2="151.50" y2="483.87" stroke="#000" stroke-width="0.6" />
<text x="145.50" y="485.32" font-size="4.0" text-anchor="end" font-weight="bold" fill="#111" stroke="#111" stroke-width="0.08">5</text>
<line x1="149.70" y1="468.84" x2="151.50" y2="468.84" stroke="#000" stroke-width="0.6" />
<text x="145.50" y="470.29" font-size="4.0" text-anchor="end" font-weight="bold" fill="#111" stroke="#111" stroke-width="0.08">10</text>
<line x1="149.70" y1="453.81" x2="151.50" y2="453.81" stroke="#000" stroke-width="0.6" />
<text x="145.50" y="455.26" font-size="4.0" text-anchor="end" font-weight="bold" fill="#111" stroke="#111" stroke-width="0.08">15</text>
<line x1="149.70" y1="438.79" x2="151.50" y2="438.79" stroke="#000" stroke-width="0.6" />
<text x="145.50" y="440.24" font-size="4.0" text-anchor="end" font-weight="bold" fill="#111" stroke="#111" stroke-width="0.08">20</text>
<line x1="149.70" y1="423.76" x2="151.50" y2="423.76" stroke="#000" stroke-width="0.6" />
<text x="145.50" y="425.21" font-size="4.0" text-anchor="end" font-weight="bold" fill="#111" stroke="#111" stroke-width="0.08">25</text>
<line x1="149.70" y1="408.73" x2="151.50" y2="408.73" stroke="#000" stroke-width="0.6" />
<text x="145.50" y="410.18" font-size="4.0" text-anchor="end" font-weight="bold" fill="#111" stroke="#111" stroke-width="0.08">30</text>
<line x1="149.70" y1="393.70" x2="151.50" y2="393.70" stroke="#000" stroke-width="0.6" />
<text x="145.50" y="395.15" font-size="4.0" text-anchor="end" font-weight="bold" fill="#111" stroke="#111" stroke-width="0.08">35</text>
<line x1="151.50" y1="498.90" x2="151.50" y2="500.20" stroke="#000" stroke-width="0.8" />
<line x1="151.50" y1="499.60" x2="257.00" y2="499.60" stroke="#222" stroke-width="0.8" />
<line x1="164.30" y1="462.23" x2="164.30" y2="450.20" stroke="#000" stroke-width="0.8" />
<rect x="159.00" y="462.23" width="10.60" height="36.67" fill="#000" />
<clipPath id="c11"><rect x="169.90" y="497.10" width="9.70" height="1.80"/></clipPath>
<rect x="169.90" y="497.10" width="9.70" height="1.80" fill="#fff"/>
<path d="M169.90 497.70L179.60 488.00M169.90 500.40L179.60 490.70M169.90 503.10L179.60 493.40M169.90 505.80L179.60 496.10M169.90 508.50L179.60 498.80" stroke="#000" stroke-width="1.1" fill="none" clip-path="url(#c11)"/>
<rect x="169.90" y="497.10" width="9.70" height="1.80" fill="none" stroke="#000" stroke-width="0.6"/>
<line x1="199.30" y1="410.23" x2="199.30" y2="390.20" stroke="#000" stroke-width="0.8" />
<rect x="194.00" y="410.23" width="10.60" height="88.67" fill="#000" />
<line x1="209.75" y1="485.37" x2="209.75" y2="480.40" stroke="#000" stroke-width="0.8" />
<clipPath id="c12"><rect x="204.90" y="485.67" width="9.70" height="13.23"/></clipPath>
<rect x="204.90" y="485.67" width="9.70" height="13.23" fill="#fff"/>
<path d="M204.90 486.27L214.60 476.57M204.90 488.97L214.60 479.27M204.90 491.67L214.60 481.97M204.90 494.37L214.60 484.67M204.90 497.07L214.60 487.37M204.90 499.77L214.60 490.07M204.90 502.47L214.60 492.77M204.90 505.17L214.60 495.47M204.90 507.87L214.60 498.17" stroke="#000" stroke-width="1.1" fill="none" clip-path="url(#c12)"/>
<rect x="204.90" y="485.67" width="9.70" height="13.23" fill="none" stroke="#000" stroke-width="0.6"/>
<line x1="234.90" y1="404.52" x2="234.90" y2="383.70" stroke="#000" stroke-width="0.8" />
<rect x="229.60" y="404.52" width="10.60" height="94.38" fill="#000" />
<line x1="245.35" y1="485.37" x2="245.35" y2="477.70" stroke="#000" stroke-width="0.8" />
<clipPath id="c13"><rect x="240.50" y="485.67" width="9.70" height="13.23"/></clipPath>
<rect x="240.50" y="485.67" width="9.70" height="13.23" fill="#fff"/>
<path d="M240.50 486.27L250.20 476.57M240.50 488.97L250.20 479.27M240.50 491.67L250.20 481.97M240.50 494.37L250.20 484.67M240.50 497.07L250.20 487.37M240.50 499.77L250.20 490.07M240.50 502.47L250.20 492.77M240.50 505.17L250.20 495.47M240.50 507.87L250.20 498.17" stroke="#000" stroke-width="1.1" fill="none" clip-path="url(#c13)"/>
<rect x="240.50" y="485.67" width="9.70" height="13.23" fill="none" stroke="#000" stroke-width="0.6"/>
<text x="204.60" y="381.20" font-size="6.8" text-anchor="middle" font-weight="bold" textLength="21.00" lengthAdjust="spacingAndGlyphs" stroke="#000" stroke-width="0.15">Spleen</text>
<text x="169.60" y="508.00" font-size="4.4" text-anchor="middle" font-weight="bold" fill="#222" textLength="16.30" lengthAdjust="spacingAndGlyphs" stroke="#222" stroke-width="0.08">CFU-GM</text>
<text x="203.20" y="508.00" font-size="4.4" text-anchor="middle" font-weight="bold" fill="#222" textLength="10.80" lengthAdjust="spacingAndGlyphs" stroke="#222" stroke-width="0.08">BFU-E</text>
<text x="241.00" y="508.00" font-size="4.4" text-anchor="middle" font-weight="bold" fill="#222" textLength="22.50" lengthAdjust="spacingAndGlyphs" stroke="#222" stroke-width="0.08">CFU-GEMM</text>
<text x="177.00" y="491.00" font-size="3.8" text-anchor="middle" font-weight="bold" fill="#222" stroke="#222" stroke-width="0.08">b</text>
<text x="212.00" y="479.50" font-size="3.8" text-anchor="middle" font-weight="bold" fill="#222" stroke="#222" stroke-width="0.08">c</text>
<text x="247.50" y="478.50" font-size="3.8" text-anchor="middle" font-weight="bold" fill="#222" stroke="#222" stroke-width="0.08">d</text>
<rect x="160.00" y="390.20" width="6.90" height="7.30" fill="#000" />
<clipPath id="c14"><rect x="160.30" y="401.90" width="6.40" height="6.60"/></clipPath>
<rect x="160.30" y="401.90" width="6.40" height="6.60" fill="#fff"/>
<path d="M160.30 402.50L166.70 396.10M160.30 405.20L166.70 398.80M160.30 407.90L166.70 401.50M160.30 410.60L166.70 404.20M160.30 413.30L166.70 406.90" stroke="#000" stroke-width="1.1" fill="none" clip-path="url(#c14)"/>
<rect x="160.30" y="401.90" width="6.40" height="6.60" fill="none" stroke="#000" stroke-width="0.6"/>
<text x="167.60" y="395.20" font-size="4.4" font-weight="bold" fill="#111" textLength="13.80" lengthAdjust="spacingAndGlyphs" stroke="#111" stroke-width="0.08">Control</text>
<text x="167.60" y="407.00" font-size="4.4" font-weight="bold" fill="#111" textLength="13.80" lengthAdjust="spacingAndGlyphs" stroke="#111" stroke-width="0.08">Stat3-/-</text>
<text x="280.80" y="192.20" font-size="12.6" font-weight="bold" textLength="8.80" lengthAdjust="spacingAndGlyphs" stroke="#000" stroke-width="0.12">C</text>
<text x="292.10" y="212.30" font-size="10.4" fill="#111" stroke="#111" stroke-width="0.2">i</text>
<text x="354.20" y="203.60" font-size="7.2" font-weight="bold" textLength="105.20" lengthAdjust="spacingAndGlyphs" stroke="#000" stroke-width="0.15">MULTI-CYTOKINE SYNERGISTIC</text>
<text x="354.20" y="213.20" font-size="7.2" font-weight="bold" textLength="93.10" lengthAdjust="spacingAndGlyphs" stroke="#000" stroke-width="0.15">PROLIFERATUVE RESPONSE</text>
<rect x="337.30" y="221.20" width="141.50" height="99.10" fill="none" stroke="#999" stroke-width="0.7" />
<line x1="337.30" y1="221.20" x2="337.30" y2="320.30" stroke="#777" stroke-width="0.7" />
<line x1="337.30" y1="320.30" x2="478.80" y2="320.30" stroke="#777" stroke-width="0.7" />
<line x1="335.80" y1="320.30" x2="337.30" y2="320.30" stroke="#666" stroke-width="0.5" />
<text x="334.20" y="321.70" font-size="3.9" text-anchor="end" font-weight="bold" fill="#444" stroke="#444" stroke-width="0.02">0.0</text>
<line x1="335.80" y1="303.80" x2="337.30" y2="303.80" stroke="#666" stroke-width="0.5" />
<text x="334.20" y="305.20" font-size="3.9" text-anchor="end" font-weight="bold" fill="#444" stroke="#444" stroke-width="0.02">0.5</text>
<line x1="335.80" y1="287.30" x2="337.30" y2="287.30" stroke="#666" stroke-width="0.5" />
<text x="334.20" y="288.70" font-size="3.9" text-anchor="end" font-weight="bold" fill="#444" stroke="#444" stroke-width="0.02">1.0</text>
<line x1="335.80" y1="270.80" x2="337.30" y2="270.80" stroke="#666" stroke-width="0.5" />
<text x="334.20" y="272.20" font-size="3.9" text-anchor="end" font-weight="bold" fill="#444" stroke="#444" stroke-width="0.02">1.5</text>
<line x1="335.80" y1="254.30" x2="337.30" y2="254.30" stroke="#666" stroke-width="0.5" />
<text x="334.20" y="255.70" font-size="3.9" text-anchor="end" font-weight="bold" fill="#444" stroke="#444" stroke-width="0.02">2.0</text>
<line x1="335.80" y1="237.80" x2="337.30" y2="237.80" stroke="#666" stroke-width="0.5" />
<text x="334.20" y="239.20" font-size="3.9" text-anchor="end" font-weight="bold" fill="#444" stroke="#444" stroke-width="0.02">2.5</text>
<line x1="335.80" y1="221.30" x2="337.30" y2="221.30" stroke="#666" stroke-width="0.5" />
<text x="334.20" y="222.70" font-size="3.9" text-anchor="end" font-weight="bold" fill="#444" stroke="#444" stroke-width="0.02">3.0</text>
<line x1="351.60" y1="257.00" x2="351.60" y2="260.90" stroke="#777" stroke-width="0.5" />
<line x1="350.30" y1="257.00" x2="352.90" y2="257.00" stroke="#777" stroke-width="0.5" />
<line x1="350.30" y1="260.90" x2="352.90" y2="260.90" stroke="#777" stroke-width="0.5" />
<rect x="349.60" y="260.90" width="4.00" height="59.40" fill="#000" />
<line x1="358.00" y1="286.80" x2="358.00" y2="290.60" stroke="#777" stroke-width="0.5" />
<line x1="356.70" y1="286.80" x2="359.30" y2="286.80" stroke="#777" stroke-width="0.5" />
<line x1="356.70" y1="290.60" x2="359.30" y2="290.60" stroke="#777" stroke-width="0.5" />
<rect x="355.90" y="290.60" width="4.20" height="29.70" fill="#b9b9b9" stroke="#777" stroke-width="0.4" />
<circle cx="358.00" cy="282.50" r="0.95" fill="#111"/>
<line x1="372.90" y1="257.00" x2="372.90" y2="260.90" stroke="#777" stroke-width="0.5" />
<line x1="371.60" y1="257.00" x2="374.20" y2="257.00" stroke="#777" stroke-width="0.5" />
<line x1="371.60" y1="260.90" x2="374.20" y2="260.90" stroke="#777" stroke-width="0.5" />
<rect x="370.90" y="260.90" width="4.00" height="59.40" fill="#000" />
<line x1="379.30" y1="284.00" x2="379.30" y2="287.30" stroke="#777" stroke-width="0.5" />
<line x1="378.00" y1="284.00" x2="380.60" y2="284.00" stroke="#777" stroke-width="0.5" />
<line x1="378.00" y1="287.30" x2="380.60" y2="287.30" stroke="#777" stroke-width="0.5" />
<rect x="377.20" y="287.30" width="4.20" height="33.00" fill="#b9b9b9" stroke="#777" stroke-width="0.4" />
<circle cx="379.30" cy="281.00" r="0.95" fill="#111"/>
<line x1="394.10" y1="257.20" x2="394.10" y2="260.90" stroke="#777" stroke-width="0.5" />
<line x1="392.80" y1="257.20" x2="395.40" y2="257.20" stroke="#777" stroke-width="0.5" />
<line x1="392.80" y1="260.90" x2="395.40" y2="260.90" stroke="#777" stroke-width="0.5" />
<rect x="392.10" y="260.90" width="4.00" height="59.40" fill="#000" />
<line x1="400.50" y1="284.00" x2="400.50" y2="287.30" stroke="#777" stroke-width="0.5" />
<line x1="399.20" y1="284.00" x2="401.80" y2="284.00" stroke="#777" stroke-width="0.5" />
<line x1="399.20" y1="287.30" x2="401.80" y2="287.30" stroke="#777" stroke-width="0.5" />
<rect x="398.40" y="287.30" width="4.20" height="33.00" fill="#b9b9b9" stroke="#777" stroke-width="0.4" />
<circle cx="400.50" cy="280.60" r="0.95" fill="#111"/>
<line x1="415.40" y1="237.70" x2="415.40" y2="244.40" stroke="#777" stroke-width="0.5" />
<line x1="414.10" y1="237.70" x2="416.70" y2="237.70" stroke="#777" stroke-width="0.5" />
<line x1="414.10" y1="244.40" x2="416.70" y2="244.40" stroke="#777" stroke-width="0.5" />
<rect x="413.40" y="244.40" width="4.00" height="75.90" fill="#000" />
<line x1="421.80" y1="283.30" x2="421.80" y2="287.30" stroke="#777" stroke-width="0.5" />
<line x1="420.50" y1="283.30" x2="423.10" y2="283.30" stroke="#777" stroke-width="0.5" />
<line x1="420.50" y1="287.30" x2="423.10" y2="287.30" stroke="#777" stroke-width="0.5" />
<rect x="419.70" y="287.30" width="4.20" height="33.00" fill="#b9b9b9" stroke="#777" stroke-width="0.4" />
<circle cx="421.80" cy="280.00" r="0.95" fill="#111"/>
<line x1="436.70" y1="251.20" x2="436.70" y2="257.60" stroke="#777" stroke-width="0.5" />
<line x1="435.40" y1="251.20" x2="438.00" y2="251.20" stroke="#777" stroke-width="0.5" />
<line x1="435.40" y1="257.60" x2="438.00" y2="257.60" stroke="#777" stroke-width="0.5" />
<rect x="434.70" y="257.60" width="4.00" height="62.70" fill="#000" />
<line x1="443.10" y1="280.00" x2="443.10" y2="284.00" stroke="#777" stroke-width="0.5" />
<line x1="441.80" y1="280.00" x2="444.40" y2="280.00" stroke="#777" stroke-width="0.5" />
<line x1="441.80" y1="284.00" x2="444.40" y2="284.00" stroke="#777" stroke-width="0.5" />
<rect x="441.00" y="284.00" width="4.20" height="36.30" fill="#b9b9b9" stroke="#777" stroke-width="0.4" />
<circle cx="443.10" cy="276.50" r="0.95" fill="#111"/>
<line x1="457.90" y1="261.00" x2="457.90" y2="264.20" stroke="#777" stroke-width="0.5" />
<line x1="456.60" y1="261.00" x2="459.20" y2="261.00" stroke="#777" stroke-width="0.5" />
<line x1="456.60" y1="264.20" x2="459.20" y2="264.20" stroke="#777" stroke-width="0.5" />
<rect x="455.90" y="264.20" width="4.00" height="56.10" fill="#000" />
<line x1="464.30" y1="283.80" x2="464.30" y2="287.30" stroke="#777" stroke-width="0.5" />
<line x1="463.00" y1="283.80" x2="465.60" y2="283.80" stroke="#777" stroke-width="0.5" />
<line x1="463.00" y1="287.30" x2="465.60" y2="287.30" stroke="#777" stroke-width="0.5" />
<rect x="462.20" y="287.30" width="4.20" height="33.00" fill="#b9b9b9" stroke="#777" stroke-width="0.4" />
<circle cx="464.30" cy="279.20" r="0.95" fill="#111"/>
<text x="355.00" y="325.60" font-size="4.8" text-anchor="middle" fill="#333" textLength="17.20" lengthAdjust="spacingAndGlyphs">GM-CSF</text>
<text x="375.20" y="325.60" font-size="4.8" text-anchor="middle" fill="#333" textLength="8.60" lengthAdjust="spacingAndGlyphs">IL-3</text>
<text x="397.00" y="325.60" font-size="4.8" text-anchor="middle" fill="#333" textLength="14.00" lengthAdjust="spacingAndGlyphs">M-CSF</text>
<text x="418.50" y="325.60" font-size="4.8" text-anchor="middle" fill="#333" textLength="17.20" lengthAdjust="spacingAndGlyphs">GM-CSF</text>
<text x="439.80" y="325.60" font-size="4.8" text-anchor="middle" fill="#333" textLength="8.60" lengthAdjust="spacingAndGlyphs">IL-3</text>
<text x="460.80" y="325.60" font-size="4.8" text-anchor="middle" fill="#333" textLength="14.00" lengthAdjust="spacingAndGlyphs">M-CSF</text>
<line x1="340.20" y1="329.90" x2="404.20" y2="329.90" stroke="#111" stroke-width="1.5" />
<line x1="409.60" y1="329.90" x2="473.70" y2="329.90" stroke="#111" stroke-width="1.5" />
<text x="375.80" y="340.30" font-size="8.6" text-anchor="middle" font-weight="bold" textLength="19.50" lengthAdjust="spacingAndGlyphs" stroke="#000" stroke-width="0.12">+SCF</text>
<text x="438.70" y="340.30" font-size="8.6" text-anchor="middle" font-weight="bold" textLength="14.00" lengthAdjust="spacingAndGlyphs" stroke="#000" stroke-width="0.12">+FL</text>
<text x="326.30" y="272.70" font-size="7" text-anchor="middle" font-weight="bold" fill="#111" textLength="57.50" lengthAdjust="spacingAndGlyphs" transform="rotate(-90 326.30 272.70)" stroke="#111" stroke-width="0.15">Synergistic Index</text>
<rect x="455.40" y="224.30" width="3.30" height="10.50" fill="#000" />
<rect x="460.20" y="224.30" width="3.50" height="10.50" fill="#b9b9b9" stroke="#666" stroke-width="0.4" />
<text x="451.40" y="239.40" font-size="4.8" textLength="14.80" lengthAdjust="spacingAndGlyphs">WT -/-</text>
<text x="291.10" y="363.60" font-size="10.0" fill="#111" textLength="4.00" lengthAdjust="spacingAndGlyphs" stroke="#111" stroke-width="0.2">ii</text>
<text x="347.80" y="372.80" font-size="7.0" font-weight="bold" textLength="90.20" lengthAdjust="spacingAndGlyphs" stroke="#000" stroke-width="0.15">COMPARATIVE REPLATING</text>
<text x="378.00" y="383.00" font-size="7.0" font-weight="bold" textLength="32.20" lengthAdjust="spacingAndGlyphs" stroke="#000" stroke-width="0.15">CAPACITY</text>
<rect x="308.50" y="391.70" width="64.60" height="109.70" fill="none" stroke="#666" stroke-width="0.6" />
<line x1="306.60" y1="501.40" x2="308.50" y2="501.40" stroke="#444" stroke-width="0.5" />
<text x="303.30" y="503.30" font-size="5.4" text-anchor="end" fill="#222" textLength="4.80" lengthAdjust="spacingAndGlyphs">0</text>
<line x1="306.60" y1="485.73" x2="308.50" y2="485.73" stroke="#444" stroke-width="0.5" />
<text x="303.30" y="487.63" font-size="5.4" text-anchor="end" fill="#222" textLength="9.90" lengthAdjust="spacingAndGlyphs">20</text>
<line x1="306.60" y1="470.06" x2="308.50" y2="470.06" stroke="#444" stroke-width="0.5" />
<text x="303.30" y="471.96" font-size="5.4" text-anchor="end" fill="#222" textLength="9.90" lengthAdjust="spacingAndGlyphs">40</text>
<line x1="306.60" y1="454.38" x2="308.50" y2="454.38" stroke="#444" stroke-width="0.5" />
<text x="303.30" y="456.28" font-size="5.4" text-anchor="end" fill="#222" textLength="9.90" lengthAdjust="spacingAndGlyphs">60</text>
<line x1="306.60" y1="438.71" x2="308.50" y2="438.71" stroke="#444" stroke-width="0.5" />
<text x="303.30" y="440.61" font-size="5.4" text-anchor="end" fill="#222" textLength="9.90" lengthAdjust="spacingAndGlyphs">80</text>
<line x1="306.60" y1="423.04" x2="308.50" y2="423.04" stroke="#444" stroke-width="0.5" />
<text x="303.30" y="424.94" font-size="5.4" text-anchor="end" fill="#222" textLength="14.80" lengthAdjust="spacingAndGlyphs">100</text>
<line x1="306.60" y1="407.37" x2="308.50" y2="407.37" stroke="#444" stroke-width="0.5" />
<text x="303.30" y="409.27" font-size="5.4" text-anchor="end" fill="#222" textLength="14.80" lengthAdjust="spacingAndGlyphs">120</text>
<line x1="306.60" y1="391.70" x2="308.50" y2="391.70" stroke="#444" stroke-width="0.5" />
<text x="303.30" y="393.60" font-size="5.4" text-anchor="end" fill="#222" textLength="14.80" lengthAdjust="spacingAndGlyphs">140</text>
<line x1="340.80" y1="501.40" x2="340.80" y2="503.00" stroke="#444" stroke-width="0.5" />
<rect x="313.50" y="422.70" width="7.80" height="78.70" fill="#adadad" stroke="#666" stroke-width="0.6" />
<rect x="325.20" y="440.80" width="8.00" height="60.60" fill="#000" />
<rect x="349.10" y="399.30" width="7.80" height="102.10" fill="#adadad" stroke="#666" stroke-width="0.6" />
<rect x="360.40" y="475.00" width="7.90" height="26.40" fill="#000" />
<rect x="318.80" y="399.40" width="4.80" height="7.40" fill="#adadad" stroke="#666" stroke-width="0.5" />
<rect x="327.20" y="399.40" width="5.10" height="7.40" fill="#000" />
<text x="321.40" y="411.70" font-size="4.6" text-anchor="middle" fill="#222">WT</text>
<text x="330.20" y="411.70" font-size="4.6" text-anchor="middle" fill="#222">-/-</text>
<text x="309.00" y="507.90" font-size="5.0" fill="#222" textLength="24.50" lengthAdjust="spacingAndGlyphs">Percentage</text>
<text x="309.00" y="514.35" font-size="5.0" fill="#222" textLength="26.50" lengthAdjust="spacingAndGlyphs">Of 2° Plates</text>
<text x="309.00" y="520.80" font-size="5.0" fill="#222" textLength="28.00" lengthAdjust="spacingAndGlyphs">With CFU-M</text>
<text x="345.60" y="507.90" font-size="5.0" fill="#222" textLength="24.50" lengthAdjust="spacingAndGlyphs">Number of</text>
<text x="345.60" y="514.35" font-size="5.0" fill="#222" textLength="14.50" lengthAdjust="spacingAndGlyphs">CFU-M</text>
<text x="345.60" y="520.80" font-size="5.0" fill="#222" textLength="28.50" lengthAdjust="spacingAndGlyphs">col./2° plate</text>
<text x="286.80" y="446.10" font-size="7.0" text-anchor="middle" fill="#111" textLength="79.50" lengthAdjust="spacingAndGlyphs" transform="rotate(-90 286.80 446.10)">% or number of 2° colonies</text>
<rect x="441.75" y="390.50" width="72.50" height="109.75" fill="none" stroke="#666" stroke-width="0.6" />
<line x1="439.90" y1="500.25" x2="441.75" y2="500.25" stroke="#444" stroke-width="0.5" />
<text x="435.80" y="502.15" font-size="5.4" text-anchor="middle" fill="#222" textLength="3.20" lengthAdjust="spacingAndGlyphs">0</text>
<line x1="439.90" y1="484.57" x2="441.75" y2="484.57" stroke="#444" stroke-width="0.5" />
<text x="435.80" y="486.47" font-size="5.4" text-anchor="middle" fill="#222" textLength="3.20" lengthAdjust="spacingAndGlyphs">1</text>
<line x1="439.90" y1="468.89" x2="441.75" y2="468.89" stroke="#444" stroke-width="0.5" />
<text x="435.80" y="470.79" font-size="5.4" text-anchor="middle" fill="#222" textLength="3.20" lengthAdjust="spacingAndGlyphs">2</text>
<line x1="439.90" y1="453.21" x2="441.75" y2="453.21" stroke="#444" stroke-width="0.5" />
<text x="435.80" y="455.11" font-size="5.4" text-anchor="middle" fill="#222" textLength="3.20" lengthAdjust="spacingAndGlyphs">3</text>
<line x1="439.90" y1="437.53" x2="441.75" y2="437.53" stroke="#444" stroke-width="0.5" />
<text x="435.80" y="439.43" font-size="5.4" text-anchor="middle" fill="#222" textLength="3.20" lengthAdjust="spacingAndGlyphs">4</text>
<line x1="439.90" y1="421.85" x2="441.75" y2="421.85" stroke="#444" stroke-width="0.5" />
<text x="435.80" y="423.75" font-size="5.4" text-anchor="middle" fill="#222" textLength="3.20" lengthAdjust="spacingAndGlyphs">5</text>
<line x1="439.90" y1="406.17" x2="441.75" y2="406.17" stroke="#444" stroke-width="0.5" />
<text x="435.80" y="408.07" font-size="5.4" text-anchor="middle" fill="#222" textLength="3.20" lengthAdjust="spacingAndGlyphs">6</text>
<line x1="439.90" y1="390.49" x2="441.75" y2="390.49" stroke="#444" stroke-width="0.5" />
<text x="435.80" y="392.39" font-size="5.4" text-anchor="middle" fill="#222" textLength="3.20" lengthAdjust="spacingAndGlyphs">7</text>
<line x1="461.50" y1="500.25" x2="461.50" y2="501.90" stroke="#444" stroke-width="0.5" />
<line x1="480.00" y1="500.25" x2="480.00" y2="501.90" stroke="#444" stroke-width="0.5" />
<line x1="498.50" y1="500.25" x2="498.50" y2="501.90" stroke="#444" stroke-width="0.5" />
<rect x="447.30" y="403.03" width="4.10" height="97.22" fill="#adadad" stroke="#666" stroke-width="0.6" />
<rect x="453.00" y="462.62" width="4.10" height="37.63" fill="#000" />
<rect x="465.80" y="423.42" width="4.10" height="76.83" fill="#adadad" stroke="#666" stroke-width="0.6" />
<rect x="471.50" y="459.48" width="4.10" height="40.77" fill="#000" />
<rect x="483.80" y="487.71" width="4.10" height="12.54" fill="#adadad" stroke="#666" stroke-width="0.6" />
<rect x="489.50" y="493.98" width="4.10" height="6.27" fill="#000" />
<rect x="502.05" y="492.41" width="4.10" height="7.84" fill="#adadad" stroke="#666" stroke-width="0.6" />
<rect x="507.75" y="498.68" width="4.10" height="1.57" fill="#000" />
<rect x="492.00" y="399.50" width="4.00" height="7.20" fill="#b4b4b4" stroke="#6a6a6a" stroke-width="0.5" />
<rect x="500.80" y="399.50" width="4.20" height="7.20" fill="#000" />
<text x="494.50" y="411.60" font-size="4.2" text-anchor="middle" fill="#222">WT</text>
<text x="503.70" y="411.60" font-size="4.2" text-anchor="middle" fill="#222">-/-</text>
<text x="456.10" y="508.70" font-size="5.6" text-anchor="end" fill="#111" textLength="12.70" lengthAdjust="spacingAndGlyphs" transform="rotate(-45 456.10 508.70)" stroke="#111" stroke-width="0.08">Total</text>
<text x="477.20" y="507.00" font-size="5.6" text-anchor="end" fill="#111" textLength="19.00" lengthAdjust="spacingAndGlyphs" transform="rotate(-45 477.20 507.00)" stroke="#111" stroke-width="0.08">CFU-GM</text>
<text x="494.60" y="507.70" font-size="5.6" text-anchor="end" fill="#111" textLength="15.00" lengthAdjust="spacingAndGlyphs" transform="rotate(-45 494.60 507.70)" stroke="#111" stroke-width="0.08">BFU-E</text>
<text x="516.50" y="503.50" font-size="5.6" text-anchor="end" fill="#111" textLength="28.00" lengthAdjust="spacingAndGlyphs" transform="rotate(-45 516.50 503.50)" stroke="#111" stroke-width="0.08">CFU-GEMM</text>
<text x="428.55" y="447.80" font-size="6.8" text-anchor="middle" fill="#111" textLength="83.20" lengthAdjust="spacingAndGlyphs" transform="rotate(-90 428.55 447.80)">Number of colonies/2° plate</text>
<text x="2.00" y="551.80" font-size="12.2" font-weight="bold" textLength="8.00" lengthAdjust="spacingAndGlyphs" stroke="#000" stroke-width="0.12">D</text>
<text x="70.50" y="551.20" font-size="10.6" font-weight="bold" textLength="153.20" lengthAdjust="spacingAndGlyphs" stroke="#000" stroke-width="0.12">Surface Marker Phenotyping</text>
<rect x="40.90" y="564.50" width="228.90" height="111.90" fill="none" stroke="#222" stroke-width="0.8" />
<line x1="39.00" y1="676.40" x2="40.90" y2="676.40" stroke="#333" stroke-width="0.6" />
<text x="37.60" y="678.60" font-size="6.1" text-anchor="end" textLength="3.10" lengthAdjust="spacingAndGlyphs" stroke="#000" stroke-width="0.12">0</text>
<line x1="39.00" y1="649.44" x2="40.90" y2="649.44" stroke="#333" stroke-width="0.6" />
<text x="37.60" y="651.64" font-size="6.1" text-anchor="end" textLength="6.20" lengthAdjust="spacingAndGlyphs" stroke="#000" stroke-width="0.12">20</text>
<line x1="39.00" y1="622.48" x2="40.90" y2="622.48" stroke="#333" stroke-width="0.6" />
<text x="37.60" y="624.68" font-size="6.1" text-anchor="end" textLength="6.20" lengthAdjust="spacingAndGlyphs" stroke="#000" stroke-width="0.12">40</text>
<line x1="39.00" y1="595.52" x2="40.90" y2="595.52" stroke="#333" stroke-width="0.6" />
<text x="37.60" y="597.72" font-size="6.1" text-anchor="end" textLength="6.20" lengthAdjust="spacingAndGlyphs" stroke="#000" stroke-width="0.12">60</text>
<line x1="39.00" y1="568.56" x2="40.90" y2="568.56" stroke="#333" stroke-width="0.6" />
<text x="37.60" y="570.76" font-size="6.1" text-anchor="end" textLength="6.20" lengthAdjust="spacingAndGlyphs" stroke="#000" stroke-width="0.12">80</text>
<line x1="61.40" y1="631.92" x2="61.40" y2="643.64" stroke="#1a1a1a" stroke-width="0.85" />
<line x1="58.70" y1="631.92" x2="64.10" y2="631.92" stroke="#1a1a1a" stroke-width="0.85" />
<rect x="55.70" y="643.64" width="11.40" height="32.76" fill="#b6b6b6" stroke="#1a1a1a" stroke-width="0.85" />
<line x1="79.20" y1="645.40" x2="79.20" y2="656.99" stroke="#1a1a1a" stroke-width="0.85" />
<line x1="76.50" y1="645.40" x2="81.90" y2="645.40" stroke="#1a1a1a" stroke-width="0.85" />
<rect x="73.50" y="656.99" width="11.40" height="19.41" fill="#b6b6b6" stroke="#1a1a1a" stroke-width="0.85" />
<line x1="116.90" y1="615.74" x2="116.90" y2="626.12" stroke="#1a1a1a" stroke-width="0.85" />
<line x1="114.20" y1="615.74" x2="119.60" y2="615.74" stroke="#1a1a1a" stroke-width="0.85" />
<rect x="111.20" y="626.12" width="11.40" height="50.28" fill="#b6b6b6" stroke="#1a1a1a" stroke-width="0.85" />
<line x1="135.00" y1="578.67" x2="135.00" y2="592.82" stroke="#1a1a1a" stroke-width="0.85" />
<line x1="132.30" y1="578.67" x2="137.70" y2="578.67" stroke="#1a1a1a" stroke-width="0.85" />
<rect x="129.30" y="592.82" width="11.40" height="83.58" fill="#b6b6b6" stroke="#1a1a1a" stroke-width="0.85" />
<line x1="171.90" y1="627.20" x2="171.90" y2="646.20" stroke="#1a1a1a" stroke-width="0.85" />
<line x1="169.20" y1="627.20" x2="174.60" y2="627.20" stroke="#1a1a1a" stroke-width="0.85" />
<rect x="166.20" y="646.20" width="11.40" height="30.20" fill="#b6b6b6" stroke="#1a1a1a" stroke-width="0.85" />
<line x1="189.90" y1="623.83" x2="189.90" y2="633.26" stroke="#1a1a1a" stroke-width="0.85" />
<line x1="187.20" y1="623.83" x2="192.60" y2="623.83" stroke="#1a1a1a" stroke-width="0.85" />
<rect x="184.20" y="633.26" width="11.40" height="43.14" fill="#b6b6b6" stroke="#1a1a1a" stroke-width="0.85" />
<line x1="227.20" y1="664.67" x2="227.20" y2="665.89" stroke="#1a1a1a" stroke-width="0.85" />
<line x1="224.50" y1="664.67" x2="229.90" y2="664.67" stroke="#1a1a1a" stroke-width="0.85" />
<rect x="221.50" y="665.89" width="11.40" height="10.51" fill="#b6b6b6" stroke="#1a1a1a" stroke-width="0.85" />
<line x1="245.70" y1="668.99" x2="245.70" y2="672.49" stroke="#1a1a1a" stroke-width="0.85" />
<line x1="243.00" y1="668.99" x2="248.40" y2="668.99" stroke="#1a1a1a" stroke-width="0.85" />
<rect x="240.00" y="672.49" width="11.40" height="3.91" fill="#b6b6b6" stroke="#1a1a1a" stroke-width="0.85" />
<polygon points="116.30,584.80 117.38,587.91 120.67,587.98 118.05,589.97 119.00,593.12 116.30,591.24 113.60,593.12 114.55,589.97 111.93,587.98 115.22,587.91" fill="#000"/>
<polygon points="237.60,652.90 238.87,656.55 242.74,656.63 239.65,658.97 240.77,662.67 237.60,660.46 234.43,662.67 235.55,658.97 232.46,656.63 236.33,656.55" fill="#000"/>
<text x="225.50" y="578.80" font-size="5.8" fill="#222" textLength="35.50" lengthAdjust="spacingAndGlyphs" stroke="#222" stroke-width="0.05">n=3 animals</text>
<text x="61.40" y="685.40" font-size="7.6" text-anchor="middle" textLength="10.60" lengthAdjust="spacingAndGlyphs" stroke="#000" stroke-width="0.1">+/+</text>
<text x="79.40" y="685.40" font-size="7.6" text-anchor="middle" textLength="8.20" lengthAdjust="spacingAndGlyphs" stroke="#000" stroke-width="0.1">-/-</text>
<text x="117.00" y="685.40" font-size="7.6" text-anchor="middle" textLength="10.60" lengthAdjust="spacingAndGlyphs" stroke="#000" stroke-width="0.1">+/+</text>
<text x="135.00" y="685.40" font-size="7.6" text-anchor="middle" textLength="8.20" lengthAdjust="spacingAndGlyphs" stroke="#000" stroke-width="0.1">-/-</text>
<text x="173.00" y="685.40" font-size="7.6" text-anchor="middle" textLength="10.60" lengthAdjust="spacingAndGlyphs" stroke="#000" stroke-width="0.1">+/+</text>
<text x="190.00" y="685.40" font-size="7.6" text-anchor="middle" textLength="8.20" lengthAdjust="spacingAndGlyphs" stroke="#000" stroke-width="0.1">-/-</text>
<text x="229.20" y="685.40" font-size="7.6" text-anchor="middle" textLength="10.60" lengthAdjust="spacingAndGlyphs" stroke="#000" stroke-width="0.1">+/+</text>
<text x="246.80" y="685.40" font-size="7.6" text-anchor="middle" textLength="8.20" lengthAdjust="spacingAndGlyphs" stroke="#000" stroke-width="0.1">-/-</text>
<line x1="50.60" y1="689.00" x2="90.20" y2="689.00" stroke="#111" stroke-width="1.4" />
<line x1="109.00" y1="689.00" x2="149.20" y2="689.00" stroke="#111" stroke-width="1.4" />
<line x1="165.50" y1="689.00" x2="205.50" y2="689.00" stroke="#111" stroke-width="1.4" />
<line x1="219.40" y1="689.00" x2="259.40" y2="689.00" stroke="#111" stroke-width="1.4" />
<text x="69.20" y="699.00" font-size="6.4" text-anchor="middle" textLength="13.60" lengthAdjust="spacingAndGlyphs" stroke="#000" stroke-width="0.1">CMP</text>
<text x="127.90" y="699.00" font-size="6.4" text-anchor="middle" textLength="13.60" lengthAdjust="spacingAndGlyphs" stroke="#000" stroke-width="0.1">GMP</text>
<text x="182.50" y="699.00" font-size="6.4" text-anchor="middle" textLength="11.40" lengthAdjust="spacingAndGlyphs" stroke="#000" stroke-width="0.1">CLP</text>
<text x="236.30" y="699.00" font-size="6.4" text-anchor="middle" textLength="13.60" lengthAdjust="spacingAndGlyphs" stroke="#000" stroke-width="0.1">MEP</text>
<text x="16.10" y="622.80" font-size="10.2" text-anchor="middle" textLength="86.80" lengthAdjust="spacingAndGlyphs" transform="rotate(-90 16.10 622.80)" stroke="#000" stroke-width="0.1">absolute number/femur</text>
<text x="26.00" y="623.00" font-size="6.6" text-anchor="middle" fill="#333" textLength="84.00" lengthAdjust="spacingAndGlyphs" transform="rotate(-90 26.00 623.00)" stroke="#333" stroke-width="0.04">(in thousands, Mean ± 1S.D)</text>
</g>
</svg>
</body></html>
